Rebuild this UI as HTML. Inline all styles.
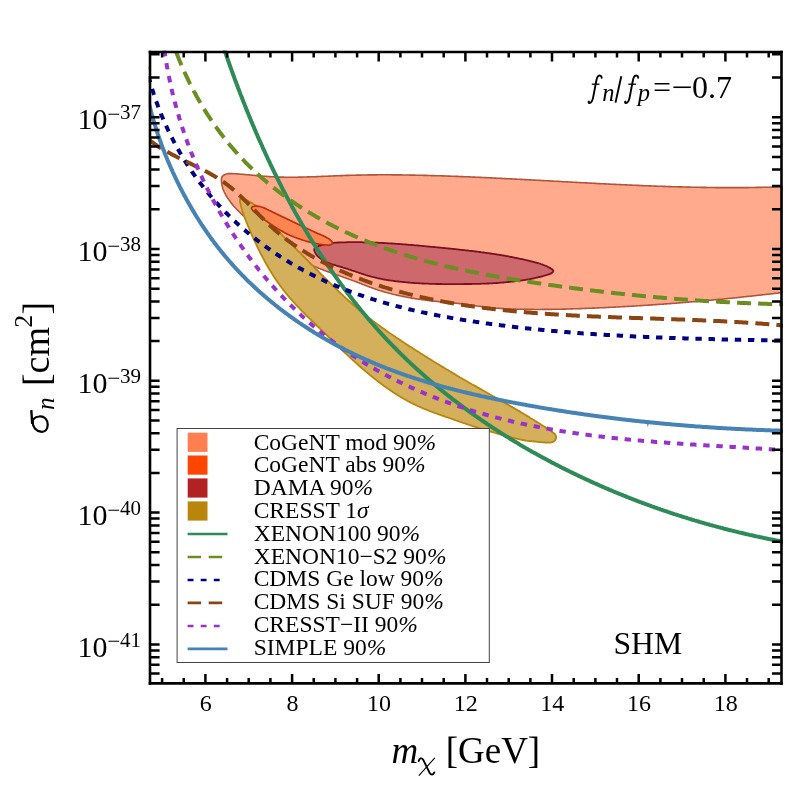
<!DOCTYPE html>
<html><head><meta charset="utf-8"><title>chart</title>
<style>
html,body{margin:0;padding:0;background:#fff;}
body{width:789px;height:789px;overflow:hidden;font-family:"Liberation Serif",serif;}
svg{display:block;will-change:transform;}
text{font-family:"Liberation Serif",serif;fill:#000;}
.it{font-style:italic;}
</style></head><body>
<svg width="789" height="789" viewBox="0 0 789 789">
<rect x="0" y="0" width="789" height="789" fill="#fff"/>
<defs><clipPath id="pc"><rect x="148.7" y="50.6" width="634.2" height="634.2"/></clipPath></defs>
<g clip-path="url(#pc)">
<path d="M784.0 186.7 L783.0 186.8 L782.0 186.8 L781.0 186.8 L780.0 186.9 L779.0 186.9 L778.0 186.9 L777.0 187.0 L776.0 187.0 L775.0 187.0 L774.0 187.0 L773.0 187.1 L772.0 187.1 L771.0 187.1 L770.0 187.2 L769.0 187.2 L768.0 187.2 L767.0 187.2 L766.0 187.3 L765.0 187.3 L764.0 187.3 L763.0 187.3 L762.0 187.3 L761.0 187.4 L760.0 187.4 L759.0 187.4 L758.0 187.4 L757.0 187.4 L756.0 187.4 L755.0 187.5 L754.0 187.5 L753.0 187.5 L751.9 187.5 L750.9 187.5 L749.9 187.5 L748.9 187.5 L747.9 187.6 L746.9 187.6 L745.9 187.6 L744.9 187.6 L743.9 187.6 L742.9 187.6 L741.9 187.6 L740.9 187.6 L739.9 187.6 L738.9 187.6 L737.9 187.6 L736.9 187.6 L735.9 187.6 L734.9 187.6 L733.9 187.6 L732.9 187.6 L731.9 187.6 L730.9 187.6 L729.9 187.6 L728.9 187.6 L727.9 187.6 L726.9 187.6 L725.9 187.6 L724.9 187.6 L723.9 187.6 L722.9 187.6 L721.9 187.6 L720.9 187.6 L719.9 187.6 L718.9 187.6 L717.9 187.6 L716.9 187.6 L715.9 187.6 L714.9 187.5 L713.9 187.5 L712.9 187.5 L711.9 187.5 L710.9 187.5 L709.9 187.5 L708.9 187.5 L707.9 187.5 L706.9 187.5 L705.9 187.4 L704.9 187.4 L703.9 187.4 L702.9 187.4 L701.9 187.4 L700.9 187.4 L699.9 187.3 L698.9 187.3 L697.9 187.3 L696.9 187.3 L695.9 187.3 L694.9 187.2 L693.9 187.2 L692.9 187.2 L691.9 187.2 L690.9 187.2 L689.9 187.1 L688.9 187.1 L687.9 187.1 L686.9 187.1 L685.9 187.0 L684.9 187.0 L683.9 187.0 L682.9 187.0 L681.9 186.9 L680.9 186.9 L679.9 186.9 L678.9 186.9 L677.9 186.8 L676.9 186.8 L675.9 186.8 L674.9 186.7 L673.9 186.7 L672.9 186.7 L671.9 186.7 L670.9 186.6 L669.9 186.6 L668.9 186.6 L667.9 186.5 L666.9 186.5 L665.9 186.5 L664.9 186.4 L663.9 186.4 L662.9 186.4 L661.9 186.3 L660.9 186.3 L659.9 186.3 L658.9 186.2 L657.9 186.2 L656.9 186.2 L655.9 186.1 L654.8 186.1 L653.8 186.0 L652.8 186.0 L651.8 186.0 L650.8 185.9 L649.8 185.9 L648.8 185.9 L647.8 185.8 L646.8 185.8 L645.8 185.7 L644.8 185.7 L643.8 185.7 L642.8 185.6 L641.8 185.6 L640.8 185.5 L639.8 185.5 L638.8 185.4 L637.8 185.4 L636.8 185.4 L635.8 185.3 L634.8 185.3 L633.8 185.2 L632.8 185.2 L631.8 185.1 L630.8 185.1 L629.8 185.1 L628.8 185.0 L627.8 185.0 L626.8 184.9 L625.8 184.9 L624.8 184.8 L623.8 184.8 L622.8 184.7 L621.8 184.7 L620.8 184.6 L619.8 184.6 L618.8 184.5 L617.8 184.5 L616.8 184.5 L615.8 184.4 L614.8 184.4 L613.8 184.3 L612.8 184.3 L611.8 184.2 L610.8 184.2 L609.8 184.1 L608.8 184.1 L607.8 184.0 L606.8 184.0 L605.8 183.9 L604.8 183.9 L603.8 183.8 L602.8 183.8 L601.8 183.7 L600.8 183.7 L599.8 183.6 L598.8 183.6 L597.8 183.5 L596.8 183.5 L595.8 183.4 L594.8 183.4 L593.8 183.3 L592.8 183.3 L591.8 183.2 L590.8 183.1 L589.8 183.1 L588.8 183.0 L587.8 183.0 L586.8 182.9 L585.8 182.9 L584.8 182.8 L583.8 182.8 L582.8 182.7 L581.8 182.7 L580.8 182.6 L579.8 182.6 L578.8 182.5 L577.8 182.5 L576.8 182.4 L575.8 182.4 L574.8 182.3 L573.8 182.2 L572.8 182.2 L571.8 182.1 L570.8 182.1 L569.8 182.0 L568.8 182.0 L567.8 181.9 L566.8 181.9 L565.8 181.8 L564.8 181.8 L563.8 181.7 L562.8 181.7 L561.8 181.6 L560.8 181.5 L559.8 181.5 L558.8 181.4 L557.8 181.4 L556.8 181.3 L555.8 181.3 L554.8 181.2 L553.8 181.2 L552.8 181.1 L551.8 181.1 L550.8 181.0 L549.8 180.9 L548.8 180.9 L547.8 180.8 L546.8 180.8 L545.8 180.7 L544.8 180.7 L543.8 180.6 L542.8 180.6 L541.8 180.5 L540.8 180.5 L539.8 180.4 L538.8 180.3 L537.8 180.3 L536.8 180.2 L535.8 180.2 L534.8 180.1 L533.8 180.1 L532.8 180.0 L531.8 180.0 L530.8 179.9 L529.8 179.9 L528.8 179.8 L527.8 179.8 L526.8 179.7 L525.8 179.6 L524.8 179.6 L523.8 179.5 L522.8 179.5 L521.8 179.4 L520.8 179.4 L519.8 179.3 L518.8 179.3 L517.8 179.2 L516.8 179.2 L515.8 179.1 L514.8 179.1 L513.8 179.0 L512.8 179.0 L511.8 178.9 L510.8 178.9 L509.8 178.8 L508.8 178.8 L507.8 178.7 L506.8 178.7 L505.8 178.6 L504.8 178.6 L503.8 178.5 L502.8 178.5 L501.8 178.4 L500.8 178.4 L499.8 178.3 L498.8 178.3 L497.8 178.2 L496.8 178.2 L495.8 178.1 L494.8 178.1 L493.8 178.0 L492.8 178.0 L491.8 177.9 L490.8 177.9 L489.8 177.8 L488.8 177.8 L487.8 177.7 L486.8 177.7 L485.8 177.6 L484.8 177.6 L483.8 177.5 L482.8 177.5 L481.8 177.5 L480.8 177.4 L479.8 177.4 L478.8 177.3 L477.8 177.3 L476.8 177.2 L475.8 177.2 L474.8 177.1 L473.8 177.1 L472.8 177.1 L471.8 177.0 L470.8 177.0 L469.8 176.9 L468.8 176.9 L467.8 176.8 L466.8 176.8 L465.8 176.8 L464.8 176.7 L463.8 176.7 L462.8 176.6 L461.8 176.6 L460.8 176.6 L459.8 176.5 L458.8 176.5 L457.8 176.4 L456.8 176.4 L455.8 176.4 L454.8 176.3 L453.8 176.3 L452.8 176.3 L451.8 176.2 L450.8 176.2 L449.8 176.1 L448.8 176.1 L447.8 176.1 L446.8 176.0 L445.8 176.0 L444.8 176.0 L443.8 175.9 L442.8 175.9 L441.8 175.9 L440.8 175.8 L439.8 175.8 L438.8 175.8 L437.8 175.7 L436.8 175.7 L435.8 175.7 L434.8 175.7 L433.8 175.6 L432.8 175.6 L431.8 175.6 L430.8 175.5 L429.8 175.5 L428.8 175.5 L427.8 175.5 L426.8 175.4 L425.8 175.4 L424.8 175.4 L423.8 175.4 L422.8 175.3 L421.8 175.3 L420.8 175.3 L419.8 175.3 L418.8 175.2 L417.8 175.2 L416.8 175.2 L415.8 175.2 L414.8 175.1 L413.8 175.1 L412.8 175.1 L411.8 175.1 L410.8 175.1 L409.8 175.1 L408.8 175.0 L407.8 175.0 L406.8 175.0 L405.8 175.0 L404.8 175.0 L403.8 175.0 L402.8 175.0 L401.8 174.9 L400.8 174.9 L399.8 174.9 L398.8 174.9 L397.8 174.9 L396.8 174.9 L395.8 174.9 L394.8 174.9 L393.8 174.9 L392.8 174.9 L391.8 174.9 L390.8 174.8 L389.8 174.8 L388.8 174.8 L387.8 174.8 L386.8 174.8 L385.8 174.8 L384.8 174.8 L383.8 174.8 L382.7 174.8 L381.7 174.8 L380.7 174.8 L379.7 174.8 L378.7 174.8 L377.7 174.8 L376.7 174.9 L375.7 174.9 L374.7 174.9 L373.7 174.9 L372.7 174.9 L371.7 174.9 L370.7 174.9 L369.7 174.9 L368.7 174.9 L367.7 174.9 L366.7 175.0 L365.7 175.0 L364.7 175.0 L363.7 175.0 L362.7 175.0 L361.7 175.0 L360.7 175.1 L359.7 175.1 L358.7 175.1 L357.7 175.1 L356.7 175.1 L355.7 175.2 L354.7 175.2 L353.7 175.2 L352.7 175.2 L351.7 175.3 L350.7 175.3 L349.7 175.3 L348.7 175.4 L347.7 175.4 L346.7 175.4 L345.7 175.4 L344.7 175.5 L343.7 175.5 L342.7 175.6 L341.7 175.6 L340.7 175.6 L339.7 175.7 L338.7 175.7 L337.7 175.7 L336.7 175.8 L335.7 175.8 L334.7 175.9 L333.7 175.9 L332.7 176.0 L331.7 176.0 L330.7 176.0 L329.7 176.1 L328.7 176.1 L327.7 176.2 L326.7 176.2 L325.7 176.3 L324.7 176.3 L323.7 176.3 L322.7 176.4 L321.7 176.4 L320.7 176.5 L319.7 176.5 L318.6 176.5 L317.6 176.6 L316.6 176.6 L315.6 176.7 L314.6 176.7 L313.6 176.7 L312.6 176.8 L311.6 176.8 L310.6 176.8 L309.6 176.9 L308.6 176.9 L307.6 176.9 L306.6 177.0 L305.6 177.0 L304.6 177.0 L303.6 177.0 L302.6 177.1 L301.6 177.1 L300.6 177.1 L299.6 177.1 L298.6 177.1 L297.6 177.2 L296.6 177.2 L295.6 177.2 L294.6 177.2 L293.6 177.2 L292.6 177.2 L291.6 177.2 L290.6 177.2 L289.6 177.2 L288.6 177.2 L287.6 177.2 L286.6 177.2 L285.6 177.2 L284.6 177.2 L283.6 177.1 L282.6 177.1 L281.6 177.1 L280.6 177.1 L279.6 177.1 L278.6 177.0 L277.6 177.0 L276.6 176.9 L275.6 176.9 L274.6 176.9 L273.6 176.8 L272.6 176.8 L271.6 176.7 L270.6 176.7 L269.6 176.6 L268.6 176.5 L267.7 176.5 L266.7 176.4 L265.7 176.3 L264.7 176.3 L263.7 176.2 L262.7 176.1 L261.7 176.0 L260.7 175.9 L259.7 175.8 L258.7 175.8 L257.7 175.7 L256.7 175.6 L255.7 175.5 L254.7 175.4 L253.7 175.3 L252.7 175.2 L251.7 175.1 L250.7 175.0 L249.7 174.9 L248.7 174.9 L247.7 174.8 L246.7 174.7 L245.7 174.6 L244.7 174.5 L243.7 174.4 L242.7 174.3 L241.7 174.2 L240.7 174.2 L239.7 174.1 L238.7 174.0 L237.7 173.9 L236.7 173.9 L235.7 173.8 L234.7 173.7 L233.6 173.7 L232.6 173.6 L231.6 173.6 L230.6 173.5 L229.6 173.6 L228.6 173.6 L227.6 173.8 L226.6 174.0 L225.6 174.3 L224.6 174.7 L223.7 175.2 L222.9 175.8 L222.2 176.4 L221.8 177.3 L221.6 178.1 L221.5 179.1 L221.4 180.1 L221.5 181.0 L221.5 182.0 L221.6 183.0 L221.8 183.9 L221.9 184.9 L222.1 185.8 L222.4 186.8 L222.6 187.7 L222.9 188.7 L223.3 189.6 L223.6 190.5 L224.0 191.5 L224.4 192.4 L224.9 193.3 L225.3 194.2 L225.8 195.1 L226.3 196.0 L226.9 196.8 L227.4 197.7 L228.0 198.6 L228.6 199.4 L229.2 200.3 L229.8 201.1 L230.4 202.0 L231.0 202.8 L231.7 203.6 L232.3 204.4 L233.0 205.2 L233.6 206.0 L234.3 206.7 L235.0 207.5 L235.7 208.2 L236.4 209.0 L237.1 209.7 L237.8 210.4 L238.5 211.1 L239.2 211.8 L239.9 212.5 L240.6 213.2 L241.3 213.9 L242.0 214.5 L242.8 215.2 L243.5 215.9 L244.2 216.5 L245.0 217.2 L245.7 217.8 L246.5 218.4 L247.2 219.1 L248.0 219.7 L248.7 220.3 L249.5 221.0 L250.2 221.6 L251.0 222.2 L251.8 222.8 L252.5 223.4 L253.3 224.1 L254.1 224.7 L254.9 225.3 L255.7 225.9 L256.4 226.5 L257.2 227.1 L258.0 227.8 L258.8 228.4 L259.6 229.0 L260.4 229.6 L261.2 230.2 L261.9 230.9 L262.7 231.5 L263.5 232.1 L264.3 232.7 L265.1 233.4 L265.9 234.0 L266.7 234.6 L267.5 235.2 L268.3 235.9 L269.1 236.5 L269.9 237.1 L270.7 237.7 L271.4 238.4 L272.2 239.0 L273.0 239.6 L273.8 240.3 L274.6 240.9 L275.4 241.5 L276.2 242.2 L276.9 242.8 L277.7 243.4 L278.5 244.1 L279.3 244.7 L280.1 245.3 L280.9 245.9 L281.7 246.6 L282.5 247.2 L283.3 247.8 L284.1 248.4 L284.9 249.0 L285.7 249.6 L286.5 250.2 L287.3 250.8 L288.1 251.4 L288.9 252.0 L289.7 252.6 L290.5 253.2 L291.3 253.7 L292.2 254.3 L293.0 254.9 L293.8 255.4 L294.6 256.0 L295.5 256.5 L296.3 257.1 L297.2 257.6 L298.0 258.1 L298.9 258.6 L299.7 259.1 L300.6 259.6 L301.4 260.1 L302.3 260.6 L303.2 261.1 L304.1 261.6 L305.0 262.0 L305.9 262.5 L306.7 262.9 L307.6 263.4 L308.5 263.8 L309.4 264.2 L310.3 264.6 L311.3 265.0 L312.2 265.5 L313.1 265.9 L314.0 266.3 L314.9 266.7 L315.8 267.0 L316.8 267.4 L317.7 267.8 L318.6 268.2 L319.6 268.6 L320.5 268.9 L321.4 269.3 L322.4 269.6 L323.3 270.0 L324.2 270.4 L325.2 270.7 L326.1 271.1 L327.1 271.4 L328.0 271.7 L328.9 272.1 L329.9 272.4 L330.8 272.8 L331.8 273.1 L332.7 273.4 L333.7 273.8 L334.6 274.1 L335.5 274.4 L336.5 274.8 L337.4 275.1 L338.4 275.4 L339.3 275.8 L340.3 276.1 L341.2 276.4 L342.2 276.7 L343.1 277.1 L344.0 277.4 L345.0 277.7 L345.9 278.1 L346.9 278.4 L347.8 278.7 L348.8 279.1 L349.7 279.4 L350.6 279.8 L351.6 280.1 L352.5 280.4 L353.5 280.8 L354.4 281.1 L355.3 281.5 L356.3 281.8 L357.2 282.2 L358.1 282.6 L359.1 282.9 L360.0 283.3 L360.9 283.6 L361.9 284.0 L362.8 284.4 L363.7 284.7 L364.6 285.1 L365.6 285.5 L366.5 285.8 L367.4 286.2 L368.4 286.6 L369.3 286.9 L370.2 287.3 L371.2 287.6 L372.1 287.9 L373.1 288.3 L374.0 288.6 L375.0 288.9 L375.9 289.3 L376.9 289.6 L377.8 289.9 L378.8 290.2 L379.7 290.5 L380.7 290.8 L381.6 291.1 L382.6 291.4 L383.5 291.6 L384.5 291.9 L385.5 292.2 L386.4 292.5 L387.4 292.7 L388.4 293.0 L389.3 293.2 L390.3 293.5 L391.3 293.7 L392.2 294.0 L393.2 294.2 L394.2 294.5 L395.2 294.7 L396.1 294.9 L397.1 295.1 L398.1 295.4 L399.1 295.6 L400.0 295.8 L401.0 296.0 L402.0 296.2 L403.0 296.4 L404.0 296.6 L405.0 296.8 L405.9 297.0 L406.9 297.2 L407.9 297.4 L408.9 297.5 L409.9 297.7 L410.9 297.9 L411.9 298.1 L412.9 298.2 L413.8 298.4 L414.8 298.6 L415.8 298.7 L416.8 298.9 L417.8 299.0 L418.8 299.2 L419.8 299.3 L420.8 299.5 L421.8 299.6 L422.8 299.7 L423.8 299.9 L424.8 300.0 L425.8 300.1 L426.8 300.3 L427.8 300.4 L428.7 300.5 L429.7 300.6 L430.7 300.8 L431.7 300.9 L432.7 301.0 L433.7 301.1 L434.7 301.2 L435.7 301.3 L436.7 301.4 L437.7 301.5 L438.7 301.6 L439.7 301.7 L440.7 301.8 L441.7 301.9 L442.7 302.0 L443.7 302.1 L444.7 302.2 L445.7 302.3 L446.7 302.4 L447.7 302.5 L448.7 302.5 L449.7 302.6 L450.7 302.7 L451.6 302.8 L452.6 302.9 L453.6 303.0 L454.6 303.1 L455.6 303.2 L456.6 303.3 L457.6 303.4 L458.6 303.5 L459.6 303.6 L460.6 303.7 L461.6 303.8 L462.6 303.9 L463.6 304.0 L464.5 304.1 L465.5 304.3 L466.5 304.4 L467.5 304.5 L468.5 304.7 L469.5 304.8 L470.5 305.0 L471.5 305.1 L472.5 305.3 L473.5 305.4 L474.5 305.6 L475.4 305.7 L476.4 305.9 L477.4 306.0 L478.4 306.2 L479.4 306.3 L480.4 306.4 L481.4 306.6 L482.4 306.7 L483.4 306.8 L484.4 307.0 L485.4 307.1 L486.4 307.2 L487.4 307.3 L488.4 307.4 L489.4 307.5 L490.4 307.6 L491.4 307.7 L492.4 307.8 L493.4 307.9 L494.4 308.0 L495.4 308.1 L496.4 308.2 L497.4 308.2 L498.4 308.3 L499.4 308.4 L500.4 308.4 L501.4 308.5 L502.4 308.6 L503.4 308.6 L504.4 308.7 L505.4 308.7 L506.4 308.8 L507.4 308.8 L508.4 308.9 L509.4 308.9 L510.4 308.9 L511.4 309.0 L512.4 309.0 L513.4 309.1 L514.4 309.1 L515.4 309.1 L516.4 309.2 L517.4 309.2 L518.4 309.2 L519.4 309.2 L520.4 309.3 L521.4 309.3 L522.4 309.3 L523.4 309.3 L524.4 309.3 L525.4 309.4 L526.4 309.4 L527.4 309.4 L528.4 309.4 L529.4 309.4 L530.4 309.4 L531.4 309.4 L532.4 309.4 L533.4 309.4 L534.4 309.5 L535.4 309.5 L536.4 309.5 L537.4 309.5 L538.4 309.5 L539.4 309.5 L540.4 309.5 L541.4 309.5 L542.4 309.4 L543.4 309.4 L544.4 309.4 L545.4 309.4 L546.4 309.4 L547.4 309.4 L548.4 309.4 L549.4 309.4 L550.4 309.4 L551.4 309.4 L552.4 309.3 L553.4 309.3 L554.4 309.3 L555.4 309.3 L556.4 309.3 L557.4 309.3 L558.4 309.2 L559.4 309.2 L560.4 309.2 L561.4 309.2 L562.4 309.1 L563.4 309.1 L564.4 309.1 L565.4 309.1 L566.4 309.0 L567.4 309.0 L568.4 309.0 L569.4 309.0 L570.4 308.9 L571.4 308.9 L572.4 308.9 L573.4 308.8 L574.4 308.8 L575.4 308.8 L576.4 308.7 L577.4 308.7 L578.4 308.7 L579.4 308.6 L580.4 308.6 L581.4 308.6 L582.4 308.5 L583.4 308.5 L584.4 308.5 L585.4 308.4 L586.4 308.4 L587.4 308.3 L588.4 308.3 L589.4 308.3 L590.4 308.2 L591.4 308.2 L592.4 308.1 L593.4 308.1 L594.4 308.1 L595.4 308.0 L596.4 308.0 L597.4 307.9 L598.4 307.9 L599.4 307.8 L600.4 307.8 L601.4 307.8 L602.4 307.7 L603.4 307.7 L604.4 307.6 L605.4 307.6 L606.4 307.5 L607.4 307.5 L608.4 307.4 L609.4 307.4 L610.4 307.3 L611.4 307.3 L612.4 307.2 L613.4 307.2 L614.4 307.1 L615.4 307.1 L616.4 307.0 L617.4 307.0 L618.4 306.9 L619.4 306.9 L620.4 306.8 L621.4 306.8 L622.4 306.7 L623.4 306.6 L624.4 306.6 L625.4 306.5 L626.4 306.5 L627.4 306.4 L628.4 306.4 L629.4 306.3 L630.4 306.2 L631.4 306.2 L632.4 306.1 L633.4 306.1 L634.4 306.0 L635.4 306.0 L636.4 305.9 L637.4 305.8 L638.4 305.8 L639.4 305.7 L640.4 305.6 L641.4 305.6 L642.4 305.5 L643.4 305.5 L644.4 305.4 L645.4 305.3 L646.4 305.3 L647.4 305.2 L648.4 305.1 L649.4 305.1 L650.4 305.0 L651.4 304.9 L652.4 304.9 L653.4 304.8 L654.4 304.7 L655.4 304.6 L656.4 304.6 L657.4 304.5 L658.4 304.4 L659.4 304.4 L660.4 304.3 L661.4 304.2 L662.4 304.2 L663.4 304.1 L664.4 304.0 L665.4 303.9 L666.4 303.9 L667.4 303.8 L668.4 303.7 L669.4 303.6 L670.4 303.6 L671.4 303.5 L672.4 303.4 L673.4 303.3 L674.4 303.3 L675.4 303.2 L676.4 303.1 L677.4 303.0 L678.4 302.9 L679.4 302.9 L680.4 302.8 L681.4 302.7 L682.4 302.6 L683.4 302.5 L684.4 302.5 L685.4 302.4 L686.4 302.3 L687.4 302.2 L688.4 302.1 L689.4 302.0 L690.4 302.0 L691.4 301.9 L692.4 301.8 L693.4 301.7 L694.3 301.6 L695.3 301.5 L696.3 301.4 L697.3 301.4 L698.3 301.3 L699.3 301.2 L700.3 301.1 L701.3 301.0 L702.3 300.9 L703.3 300.8 L704.3 300.7 L705.3 300.6 L706.3 300.6 L707.3 300.5 L708.3 300.4 L709.3 300.3 L710.3 300.2 L711.3 300.1 L712.3 300.0 L713.3 299.9 L714.3 299.8 L715.3 299.7 L716.3 299.6 L717.3 299.5 L718.3 299.4 L719.3 299.3 L720.3 299.2 L721.3 299.2 L722.3 299.1 L723.3 299.0 L724.3 298.9 L725.3 298.8 L726.3 298.7 L727.3 298.6 L728.2 298.5 L729.2 298.4 L730.2 298.3 L731.2 298.2 L732.2 298.1 L733.2 298.0 L734.2 297.9 L735.2 297.8 L736.2 297.7 L737.2 297.6 L738.2 297.5 L739.2 297.4 L740.2 297.3 L741.2 297.1 L742.2 297.0 L743.2 296.9 L744.2 296.8 L745.2 296.7 L746.2 296.6 L747.2 296.5 L748.2 296.4 L749.2 296.3 L750.2 296.2 L751.2 296.1 L752.2 296.0 L753.1 295.9 L754.1 295.8 L755.1 295.7 L756.1 295.5 L757.1 295.4 L758.1 295.3 L759.1 295.2 L760.1 295.1 L761.1 295.0 L762.1 294.9 L763.1 294.8 L764.1 294.7 L765.1 294.5 L766.1 294.4 L767.1 294.3 L768.1 294.2 L769.1 294.1 L770.1 294.0 L771.1 293.9 L772.1 293.8 L773.1 293.6 L774.0 293.5 L775.0 293.4 L776.0 293.3 L777.0 293.2 L778.0 293.1 L779.0 292.9 L780.0 292.8 L781.0 292.7 L782.0 292.6 L783.0 292.5 L784.0 292.3 Z" fill="#FFAA8C" stroke="#B0553A" stroke-width="1.6" stroke-linejoin="round"/>
<path d="M240.8 198.4 L241.4 198.3 L242.1 198.3 L242.9 198.5 L243.9 198.9 L244.8 199.3 L245.8 199.7 L246.8 200.2 L247.8 200.7 L248.8 201.2 L249.7 201.8 L250.7 202.3 L251.6 202.9 L252.5 203.4 L253.3 204.0 L254.2 204.6 L255.0 205.1 L255.7 205.7 L256.5 206.3 L257.3 206.9 L258.0 207.6 L258.7 208.2 L259.4 208.8 L260.1 209.5 L260.8 210.2 L261.5 210.9 L262.2 211.6 L262.8 212.3 L263.5 213.1 L264.1 213.8 L264.8 214.6 L265.4 215.4 L266.1 216.1 L266.7 216.9 L267.3 217.7 L267.9 218.5 L268.6 219.3 L269.2 220.1 L269.8 220.9 L270.4 221.7 L271.1 222.5 L271.7 223.3 L272.3 224.1 L272.9 224.9 L273.6 225.7 L274.2 226.5 L274.9 227.3 L275.5 228.0 L276.2 228.8 L276.8 229.5 L277.5 230.3 L278.2 231.0 L278.9 231.8 L279.5 232.5 L280.2 233.2 L280.9 234.0 L281.6 234.7 L282.3 235.4 L283.0 236.1 L283.7 236.8 L284.4 237.5 L285.1 238.2 L285.8 238.9 L286.6 239.6 L287.3 240.3 L288.0 241.0 L288.7 241.7 L289.4 242.4 L290.1 243.1 L290.8 243.8 L291.6 244.5 L292.3 245.2 L293.0 245.9 L293.7 246.6 L294.4 247.3 L295.1 248.0 L295.8 248.7 L296.5 249.4 L297.2 250.1 L297.9 250.8 L298.6 251.5 L299.4 252.2 L300.1 252.9 L300.8 253.6 L301.5 254.3 L302.2 255.1 L302.9 255.8 L303.6 256.5 L304.3 257.2 L305.0 257.9 L305.7 258.6 L306.4 259.3 L307.1 260.0 L307.8 260.7 L308.5 261.5 L309.2 262.2 L309.9 262.9 L310.6 263.6 L311.3 264.3 L312.1 265.0 L312.8 265.7 L313.5 266.4 L314.2 267.2 L314.9 267.9 L315.6 268.6 L316.3 269.3 L317.0 270.0 L317.7 270.7 L318.4 271.4 L319.1 272.1 L319.8 272.8 L320.5 273.6 L321.2 274.3 L321.9 275.0 L322.7 275.7 L323.4 276.4 L324.1 277.1 L324.8 277.8 L325.5 278.5 L326.2 279.2 L326.9 279.9 L327.6 280.6 L328.3 281.3 L329.1 282.0 L329.8 282.7 L330.5 283.4 L331.2 284.1 L331.9 284.8 L332.6 285.5 L333.4 286.2 L334.1 286.9 L334.8 287.6 L335.5 288.3 L336.2 289.0 L337.0 289.7 L337.7 290.4 L338.4 291.1 L339.1 291.8 L339.9 292.5 L340.6 293.2 L341.3 293.9 L342.1 294.5 L342.8 295.2 L343.5 295.9 L344.3 296.6 L345.0 297.3 L345.7 298.0 L346.5 298.6 L347.2 299.3 L347.9 300.0 L348.7 300.7 L349.4 301.3 L350.2 302.0 L350.9 302.7 L351.7 303.3 L352.4 304.0 L353.2 304.7 L353.9 305.3 L354.7 306.0 L355.4 306.6 L356.2 307.3 L356.9 307.9 L357.7 308.6 L358.5 309.2 L359.2 309.9 L360.0 310.5 L360.8 311.2 L361.5 311.8 L362.3 312.5 L363.1 313.1 L363.8 313.7 L364.6 314.4 L365.4 315.0 L366.2 315.6 L366.9 316.2 L367.7 316.9 L368.5 317.5 L369.3 318.1 L370.1 318.7 L370.9 319.3 L371.7 319.9 L372.5 320.6 L373.3 321.2 L374.1 321.8 L374.9 322.4 L375.7 323.0 L376.5 323.6 L377.3 324.2 L378.1 324.7 L378.9 325.3 L379.7 325.9 L380.5 326.5 L381.3 327.1 L382.1 327.7 L382.9 328.3 L383.8 328.8 L384.6 329.4 L385.4 330.0 L386.2 330.6 L387.0 331.1 L387.8 331.7 L388.7 332.3 L389.5 332.9 L390.3 333.4 L391.1 334.0 L392.0 334.6 L392.8 335.1 L393.6 335.7 L394.4 336.2 L395.3 336.8 L396.1 337.4 L396.9 337.9 L397.7 338.5 L398.6 339.0 L399.4 339.6 L400.2 340.1 L401.1 340.7 L401.9 341.2 L402.7 341.8 L403.6 342.3 L404.4 342.9 L405.2 343.4 L406.1 344.0 L406.9 344.5 L407.7 345.1 L408.6 345.6 L409.4 346.2 L410.3 346.7 L411.1 347.2 L411.9 347.8 L412.8 348.3 L413.6 348.9 L414.5 349.4 L415.3 349.9 L416.2 350.5 L417.0 351.0 L417.9 351.6 L418.7 352.1 L419.5 352.6 L420.4 353.2 L421.2 353.7 L422.1 354.2 L422.9 354.8 L423.8 355.3 L424.6 355.8 L425.5 356.4 L426.3 356.9 L427.2 357.4 L428.0 358.0 L428.9 358.5 L429.7 359.0 L430.6 359.6 L431.5 360.1 L432.3 360.6 L433.2 361.2 L434.0 361.7 L434.9 362.2 L435.7 362.7 L436.6 363.3 L437.4 363.8 L438.3 364.3 L439.2 364.8 L440.0 365.4 L440.9 365.9 L441.7 366.4 L442.6 366.9 L443.5 367.4 L444.3 368.0 L445.2 368.5 L446.0 369.0 L446.9 369.5 L447.8 370.0 L448.6 370.5 L449.5 371.1 L450.3 371.6 L451.2 372.1 L452.1 372.6 L452.9 373.1 L453.8 373.6 L454.7 374.1 L455.5 374.6 L456.4 375.1 L457.2 375.7 L458.1 376.2 L459.0 376.7 L459.8 377.2 L460.7 377.7 L461.6 378.2 L462.4 378.7 L463.3 379.2 L464.2 379.7 L465.0 380.2 L465.9 380.7 L466.8 381.2 L467.6 381.7 L468.5 382.2 L469.3 382.7 L470.2 383.2 L471.1 383.7 L471.9 384.2 L472.8 384.7 L473.7 385.1 L474.5 385.6 L475.4 386.1 L476.3 386.6 L477.1 387.1 L478.0 387.6 L478.9 388.1 L479.7 388.6 L480.6 389.1 L481.5 389.6 L482.3 390.1 L483.2 390.6 L484.1 391.0 L484.9 391.5 L485.8 392.0 L486.7 392.5 L487.5 393.0 L488.4 393.5 L489.3 394.0 L490.1 394.5 L491.0 395.0 L491.9 395.5 L492.7 396.0 L493.6 396.4 L494.5 396.9 L495.3 397.4 L496.2 397.9 L497.1 398.4 L497.9 398.9 L498.8 399.4 L499.7 399.9 L500.5 400.4 L501.4 400.9 L502.3 401.4 L503.1 401.9 L504.0 402.4 L504.9 402.9 L505.7 403.4 L506.6 403.9 L507.5 404.4 L508.3 404.9 L509.2 405.4 L510.1 405.9 L510.9 406.4 L511.8 406.9 L512.7 407.4 L513.5 407.9 L514.4 408.4 L515.3 408.9 L516.1 409.4 L517.0 409.9 L517.9 410.4 L518.7 410.9 L519.6 411.4 L520.5 411.9 L521.3 412.5 L522.2 413.0 L523.1 413.5 L523.9 414.0 L524.8 414.5 L525.7 415.0 L526.5 415.6 L527.4 416.1 L528.3 416.6 L529.1 417.1 L530.0 417.7 L530.8 418.2 L531.7 418.7 L532.6 419.3 L533.4 419.8 L534.3 420.3 L535.2 420.9 L536.0 421.4 L536.9 421.9 L537.7 422.5 L538.6 423.0 L539.5 423.6 L540.3 424.1 L541.2 424.7 L542.1 425.2 L542.9 425.8 L543.8 426.3 L544.6 426.9 L545.5 427.4 L546.4 428.0 L547.2 428.5 L548.1 429.1 L548.9 429.7 L549.8 430.2 L550.7 430.8 L551.5 431.4 L552.4 432.0 L553.2 432.6 L553.9 433.2 L554.6 433.8 L555.1 434.5 L555.6 435.3 L555.9 436.1 L556.1 436.9 L556.1 437.7 L556.0 438.5 L555.7 439.3 L555.2 440.1 L554.6 440.7 L553.9 441.3 L553.2 441.8 L552.3 442.1 L551.4 442.4 L550.4 442.6 L549.3 442.7 L548.3 442.7 L547.1 442.7 L546.0 442.6 L544.9 442.5 L543.7 442.4 L542.6 442.3 L541.4 442.2 L540.3 442.1 L539.2 442.0 L538.2 441.9 L537.1 441.8 L536.1 441.7 L535.1 441.6 L534.1 441.5 L533.1 441.4 L532.2 441.3 L531.2 441.2 L530.3 441.1 L529.3 441.0 L528.4 440.9 L527.4 440.8 L526.5 440.7 L525.5 440.5 L524.6 440.4 L523.6 440.2 L522.6 440.0 L521.7 439.8 L520.7 439.6 L519.7 439.4 L518.7 439.2 L517.8 439.0 L516.8 438.7 L515.8 438.5 L514.8 438.3 L513.8 438.0 L512.9 437.8 L511.9 437.5 L510.9 437.2 L509.9 437.0 L508.9 436.7 L508.0 436.5 L507.0 436.2 L506.0 435.9 L505.1 435.7 L504.1 435.4 L503.1 435.2 L502.1 434.9 L501.2 434.6 L500.2 434.4 L499.2 434.1 L498.3 433.8 L497.3 433.5 L496.3 433.3 L495.4 433.0 L494.4 432.7 L493.5 432.4 L492.5 432.2 L491.5 431.9 L490.6 431.6 L489.6 431.3 L488.7 431.0 L487.7 430.8 L486.7 430.5 L485.8 430.2 L484.8 429.9 L483.9 429.6 L482.9 429.3 L482.0 429.0 L481.0 428.7 L480.1 428.4 L479.1 428.1 L478.2 427.8 L477.2 427.5 L476.3 427.2 L475.3 426.9 L474.4 426.6 L473.4 426.3 L472.5 426.0 L471.5 425.6 L470.6 425.3 L469.6 425.0 L468.7 424.7 L467.7 424.4 L466.8 424.1 L465.8 423.7 L464.9 423.4 L463.9 423.1 L463.0 422.8 L462.0 422.4 L461.1 422.1 L460.1 421.8 L459.2 421.5 L458.2 421.1 L457.3 420.8 L456.3 420.5 L455.4 420.2 L454.4 419.8 L453.5 419.5 L452.6 419.2 L451.6 418.9 L450.7 418.5 L449.7 418.2 L448.8 417.9 L447.8 417.5 L446.9 417.2 L445.9 416.9 L445.0 416.6 L444.0 416.2 L443.1 415.9 L442.1 415.6 L441.2 415.2 L440.3 414.9 L439.3 414.6 L438.4 414.2 L437.4 413.9 L436.5 413.5 L435.5 413.2 L434.6 412.9 L433.7 412.5 L432.7 412.2 L431.8 411.8 L430.9 411.5 L429.9 411.1 L429.0 410.7 L428.1 410.4 L427.1 410.0 L426.2 409.6 L425.3 409.2 L424.4 408.9 L423.4 408.5 L422.5 408.1 L421.6 407.7 L420.7 407.3 L419.8 406.9 L418.9 406.5 L417.9 406.1 L417.0 405.7 L416.1 405.2 L415.2 404.8 L414.3 404.4 L413.4 403.9 L412.5 403.5 L411.7 403.0 L410.8 402.6 L409.9 402.1 L409.0 401.6 L408.1 401.2 L407.2 400.7 L406.4 400.2 L405.5 399.7 L404.6 399.2 L403.7 398.7 L402.9 398.2 L402.0 397.7 L401.1 397.2 L400.3 396.7 L399.4 396.2 L398.6 395.7 L397.7 395.1 L396.9 394.6 L396.0 394.1 L395.2 393.5 L394.3 393.0 L393.5 392.4 L392.7 391.9 L391.8 391.3 L391.0 390.8 L390.2 390.2 L389.3 389.6 L388.5 389.1 L387.7 388.5 L386.9 387.9 L386.0 387.3 L385.2 386.8 L384.4 386.2 L383.6 385.6 L382.8 385.0 L382.0 384.4 L381.2 383.8 L380.4 383.2 L379.6 382.6 L378.8 382.0 L378.0 381.4 L377.2 380.7 L376.4 380.1 L375.6 379.5 L374.8 378.9 L374.0 378.3 L373.2 377.6 L372.4 377.0 L371.7 376.4 L370.9 375.7 L370.1 375.1 L369.3 374.5 L368.6 373.8 L367.8 373.2 L367.0 372.5 L366.3 371.9 L365.5 371.3 L364.7 370.6 L364.0 370.0 L363.2 369.3 L362.4 368.7 L361.7 368.0 L360.9 367.3 L360.2 366.7 L359.4 366.0 L358.7 365.4 L357.9 364.7 L357.2 364.0 L356.4 363.4 L355.7 362.7 L355.0 362.0 L354.2 361.4 L353.5 360.7 L352.7 360.0 L352.0 359.3 L351.3 358.7 L350.5 358.0 L349.8 357.3 L349.1 356.6 L348.3 355.9 L347.6 355.3 L346.9 354.6 L346.2 353.9 L345.4 353.2 L344.7 352.5 L344.0 351.8 L343.3 351.2 L342.5 350.5 L341.8 349.8 L341.1 349.1 L340.4 348.4 L339.6 347.7 L338.9 347.0 L338.2 346.3 L337.5 345.6 L336.8 344.9 L336.0 344.2 L335.3 343.5 L334.6 342.8 L333.9 342.2 L333.2 341.5 L332.4 340.8 L331.7 340.1 L331.0 339.4 L330.3 338.7 L329.6 338.0 L328.9 337.3 L328.1 336.6 L327.4 335.9 L326.7 335.2 L326.0 334.5 L325.3 333.8 L324.5 333.1 L323.8 332.4 L323.1 331.7 L322.4 331.0 L321.7 330.3 L321.0 329.6 L320.2 328.9 L319.5 328.2 L318.8 327.5 L318.1 326.8 L317.3 326.1 L316.6 325.4 L315.9 324.7 L315.2 324.0 L314.5 323.3 L313.7 322.6 L313.0 321.9 L312.3 321.2 L311.6 320.5 L310.9 319.8 L310.2 319.1 L309.4 318.4 L308.7 317.7 L308.0 317.0 L307.3 316.3 L306.6 315.6 L305.9 314.9 L305.2 314.2 L304.5 313.5 L303.7 312.7 L303.0 312.0 L302.3 311.3 L301.6 310.6 L300.9 309.9 L300.2 309.2 L299.6 308.4 L298.9 307.7 L298.2 307.0 L297.5 306.3 L296.8 305.5 L296.1 304.8 L295.4 304.1 L294.8 303.3 L294.1 302.6 L293.4 301.9 L292.7 301.1 L292.1 300.4 L291.4 299.6 L290.7 298.9 L290.1 298.1 L289.4 297.4 L288.8 296.6 L288.1 295.8 L287.5 295.1 L286.9 294.3 L286.2 293.5 L285.6 292.8 L285.0 292.0 L284.4 291.2 L283.7 290.4 L283.1 289.6 L282.5 288.8 L281.9 288.0 L281.3 287.2 L280.7 286.4 L280.1 285.6 L279.5 284.8 L278.9 284.0 L278.4 283.2 L277.8 282.4 L277.2 281.6 L276.7 280.7 L276.1 279.9 L275.5 279.1 L275.0 278.3 L274.4 277.4 L273.9 276.6 L273.3 275.7 L272.8 274.9 L272.3 274.0 L271.7 273.2 L271.2 272.3 L270.7 271.5 L270.1 270.6 L269.6 269.8 L269.1 268.9 L268.6 268.1 L268.1 267.2 L267.6 266.3 L267.1 265.4 L266.6 264.6 L266.1 263.7 L265.6 262.8 L265.1 261.9 L264.6 261.1 L264.2 260.2 L263.7 259.3 L263.2 258.4 L262.7 257.5 L262.3 256.6 L261.8 255.7 L261.3 254.8 L260.9 254.0 L260.4 253.1 L260.0 252.2 L259.5 251.3 L259.1 250.4 L258.6 249.5 L258.2 248.6 L257.7 247.7 L257.3 246.8 L256.9 245.8 L256.4 244.9 L256.0 244.0 L255.6 243.1 L255.1 242.2 L254.7 241.3 L254.3 240.4 L253.9 239.5 L253.5 238.6 L253.1 237.6 L252.6 236.7 L252.2 235.8 L251.8 234.9 L251.4 234.0 L251.0 233.1 L250.6 232.1 L250.2 231.2 L249.8 230.3 L249.4 229.4 L249.1 228.5 L248.7 227.6 L248.3 226.6 L247.9 225.7 L247.5 224.8 L247.2 223.9 L246.8 223.0 L246.4 222.1 L246.1 221.2 L245.7 220.3 L245.4 219.4 L245.0 218.4 L244.7 217.5 L244.3 216.6 L244.0 215.7 L243.7 214.8 L243.4 213.9 L243.0 212.9 L242.7 211.9 L242.4 210.9 L242.1 209.9 L241.8 208.9 L241.5 207.8 L241.1 206.6 L240.8 205.5 L240.6 204.3 L240.3 203.1 L240.1 202.0 L240.0 201.0 L240.0 200.1 L240.1 199.4 L240.4 198.8 L240.8 198.4 Z" fill="#D4AF5C" stroke="#B8860B" stroke-width="1.8" stroke-linejoin="round"/>
<path d="M314.2 249.8 L314.3 248.9 L314.7 248.2 L315.3 247.6 L316.1 247.1 L316.9 246.7 L317.9 246.3 L318.9 245.9 L319.9 245.6 L320.9 245.3 L321.9 245.0 L322.9 244.7 L323.9 244.5 L324.9 244.2 L326.0 244.0 L327.0 243.8 L328.0 243.6 L329.0 243.5 L330.0 243.3 L331.0 243.2 L332.0 243.0 L333.0 242.9 L334.0 242.8 L334.9 242.7 L335.9 242.7 L336.9 242.6 L337.9 242.5 L338.9 242.5 L339.9 242.4 L340.9 242.4 L341.9 242.4 L342.9 242.3 L343.9 242.3 L344.9 242.3 L345.9 242.3 L346.9 242.2 L347.9 242.2 L348.9 242.2 L349.9 242.2 L350.9 242.2 L351.9 242.2 L352.9 242.2 L353.9 242.2 L354.9 242.2 L355.9 242.2 L356.9 242.2 L357.9 242.2 L358.9 242.2 L359.9 242.2 L360.9 242.2 L361.9 242.2 L362.9 242.3 L363.9 242.3 L364.9 242.3 L365.9 242.3 L366.9 242.3 L367.9 242.4 L368.9 242.4 L369.9 242.4 L370.9 242.5 L371.9 242.5 L372.9 242.5 L373.9 242.6 L374.9 242.6 L375.9 242.6 L376.9 242.7 L377.9 242.7 L378.9 242.8 L379.9 242.8 L380.9 242.9 L381.9 242.9 L382.9 243.0 L383.9 243.0 L384.9 243.1 L385.9 243.1 L386.9 243.2 L387.9 243.3 L388.9 243.3 L389.9 243.4 L390.9 243.4 L391.9 243.5 L392.9 243.6 L393.9 243.6 L394.9 243.7 L395.9 243.8 L396.9 243.8 L397.9 243.9 L398.9 244.0 L399.9 244.1 L400.9 244.1 L401.9 244.2 L402.9 244.3 L403.9 244.4 L404.9 244.4 L405.9 244.5 L406.9 244.6 L407.9 244.7 L408.9 244.8 L409.9 244.8 L410.9 244.9 L411.9 245.0 L412.9 245.1 L413.9 245.2 L414.9 245.3 L415.9 245.4 L416.9 245.4 L417.9 245.5 L418.9 245.6 L419.9 245.7 L420.9 245.8 L421.9 245.9 L422.9 246.0 L423.9 246.1 L424.9 246.2 L425.9 246.3 L426.9 246.4 L427.9 246.5 L428.9 246.6 L429.9 246.7 L430.9 246.8 L431.9 246.8 L432.9 246.9 L433.9 247.0 L434.9 247.1 L435.9 247.2 L436.9 247.3 L437.9 247.4 L438.9 247.5 L439.9 247.6 L440.9 247.7 L441.9 247.8 L442.9 247.9 L443.9 248.0 L444.9 248.1 L445.9 248.2 L446.9 248.3 L447.9 248.4 L448.9 248.5 L449.9 248.6 L450.9 248.7 L451.9 248.8 L452.9 248.9 L453.9 249.0 L454.9 249.1 L455.9 249.2 L456.9 249.3 L457.8 249.4 L458.8 249.6 L459.8 249.7 L460.8 249.8 L461.8 249.9 L462.8 250.0 L463.8 250.1 L464.8 250.2 L465.8 250.3 L466.8 250.4 L467.8 250.5 L468.8 250.7 L469.8 250.8 L470.8 250.9 L471.8 251.0 L472.8 251.1 L473.7 251.2 L474.7 251.4 L475.7 251.5 L476.7 251.6 L477.7 251.7 L478.7 251.9 L479.7 252.0 L480.7 252.1 L481.7 252.3 L482.7 252.4 L483.7 252.5 L484.7 252.7 L485.6 252.8 L486.6 252.9 L487.6 253.1 L488.6 253.2 L489.6 253.4 L490.6 253.5 L491.6 253.6 L492.6 253.8 L493.6 253.9 L494.6 254.1 L495.5 254.2 L496.5 254.4 L497.5 254.6 L498.5 254.7 L499.5 254.9 L500.5 255.0 L501.5 255.2 L502.5 255.4 L503.5 255.5 L504.5 255.7 L505.4 255.9 L506.4 256.1 L507.4 256.2 L508.4 256.4 L509.4 256.6 L510.4 256.8 L511.4 257.0 L512.4 257.2 L513.3 257.4 L514.3 257.6 L515.3 257.8 L516.3 258.0 L517.3 258.2 L518.3 258.4 L519.3 258.6 L520.2 258.8 L521.2 259.0 L522.2 259.2 L523.2 259.4 L524.2 259.6 L525.2 259.9 L526.2 260.1 L527.2 260.3 L528.1 260.5 L529.1 260.8 L530.1 261.0 L531.1 261.3 L532.1 261.5 L533.1 261.8 L534.0 262.0 L535.0 262.3 L536.0 262.5 L537.0 262.8 L538.0 263.1 L538.9 263.4 L539.9 263.7 L540.8 264.0 L541.8 264.3 L542.7 264.6 L543.7 265.0 L544.6 265.3 L545.5 265.7 L546.4 266.1 L547.3 266.5 L548.2 267.0 L549.1 267.4 L549.9 267.9 L550.8 268.4 L551.6 268.9 L552.4 269.5 L553.0 270.1 L553.3 270.8 L553.2 271.5 L552.7 272.3 L552.0 272.9 L551.1 273.4 L550.1 273.9 L548.9 274.3 L547.8 274.7 L546.6 275.0 L545.5 275.4 L544.4 275.7 L543.3 276.0 L542.3 276.3 L541.3 276.5 L540.3 276.8 L539.3 277.0 L538.4 277.2 L537.5 277.5 L536.5 277.7 L535.6 277.9 L534.7 278.1 L533.8 278.3 L532.9 278.5 L532.0 278.6 L531.1 278.8 L530.2 279.0 L529.3 279.2 L528.3 279.3 L527.4 279.5 L526.4 279.6 L525.5 279.8 L524.5 280.0 L523.5 280.1 L522.5 280.3 L521.5 280.4 L520.5 280.6 L519.5 280.7 L518.5 280.8 L517.5 281.0 L516.5 281.1 L515.5 281.2 L514.5 281.4 L513.5 281.5 L512.5 281.6 L511.4 281.7 L510.4 281.8 L509.4 281.9 L508.4 282.0 L507.4 282.1 L506.4 282.2 L505.3 282.3 L504.3 282.4 L503.3 282.5 L502.3 282.6 L501.3 282.7 L500.3 282.7 L499.3 282.8 L498.3 282.9 L497.3 283.0 L496.3 283.0 L495.3 283.1 L494.3 283.2 L493.2 283.2 L492.2 283.3 L491.2 283.3 L490.2 283.4 L489.2 283.4 L488.2 283.5 L487.2 283.5 L486.2 283.6 L485.2 283.6 L484.2 283.6 L483.2 283.7 L482.2 283.7 L481.2 283.7 L480.2 283.8 L479.2 283.8 L478.2 283.8 L477.2 283.8 L476.2 283.9 L475.2 283.9 L474.2 283.9 L473.2 283.9 L472.2 283.9 L471.3 284.0 L470.3 284.0 L469.3 284.0 L468.3 284.0 L467.3 284.0 L466.3 284.0 L465.3 284.0 L464.3 284.0 L463.3 284.1 L462.3 284.1 L461.3 284.1 L460.3 284.1 L459.3 284.1 L458.3 284.1 L457.3 284.1 L456.3 284.1 L455.3 284.1 L454.3 284.1 L453.3 284.1 L452.3 284.1 L451.3 284.1 L450.3 284.1 L449.3 284.1 L448.3 284.1 L447.3 284.1 L446.3 284.1 L445.3 284.1 L444.3 284.1 L443.2 284.1 L442.2 284.1 L441.2 284.0 L440.2 284.0 L439.2 284.0 L438.2 284.0 L437.2 284.0 L436.2 284.0 L435.2 283.9 L434.2 283.9 L433.2 283.9 L432.2 283.9 L431.2 283.8 L430.2 283.8 L429.2 283.8 L428.2 283.7 L427.2 283.7 L426.2 283.6 L425.2 283.6 L424.2 283.6 L423.2 283.5 L422.2 283.5 L421.2 283.4 L420.2 283.4 L419.2 283.3 L418.2 283.2 L417.2 283.2 L416.2 283.1 L415.2 283.1 L414.2 283.0 L413.2 282.9 L412.2 282.8 L411.2 282.8 L410.2 282.7 L409.2 282.6 L408.2 282.5 L407.2 282.4 L406.2 282.3 L405.2 282.2 L404.2 282.1 L403.2 282.0 L402.2 281.9 L401.2 281.8 L400.2 281.7 L399.2 281.6 L398.2 281.5 L397.2 281.4 L396.2 281.3 L395.2 281.1 L394.2 281.0 L393.2 280.9 L392.2 280.7 L391.2 280.6 L390.2 280.4 L389.2 280.3 L388.2 280.1 L387.3 280.0 L386.3 279.8 L385.3 279.6 L384.3 279.5 L383.3 279.3 L382.3 279.1 L381.3 278.9 L380.3 278.7 L379.4 278.5 L378.4 278.3 L377.4 278.1 L376.4 277.9 L375.5 277.6 L374.5 277.4 L373.5 277.2 L372.5 276.9 L371.6 276.7 L370.6 276.4 L369.7 276.1 L368.7 275.9 L367.7 275.6 L366.8 275.3 L365.8 275.0 L364.9 274.7 L363.9 274.4 L363.0 274.1 L362.0 273.8 L361.1 273.5 L360.1 273.2 L359.2 272.8 L358.2 272.5 L357.3 272.2 L356.3 271.9 L355.4 271.5 L354.4 271.2 L353.5 270.9 L352.5 270.6 L351.6 270.3 L350.6 269.9 L349.7 269.6 L348.7 269.3 L347.8 269.0 L346.8 268.7 L345.8 268.4 L344.9 268.1 L343.9 267.8 L342.9 267.5 L342.0 267.2 L341.0 267.0 L340.0 266.7 L339.1 266.4 L338.1 266.1 L337.1 265.8 L336.2 265.5 L335.2 265.2 L334.2 264.9 L333.3 264.6 L332.3 264.3 L331.4 264.0 L330.5 263.6 L329.5 263.3 L328.6 262.9 L327.7 262.5 L326.8 262.1 L325.9 261.7 L325.0 261.2 L324.1 260.8 L323.3 260.3 L322.4 259.8 L321.6 259.2 L320.8 258.7 L319.9 258.1 L319.2 257.5 L318.4 256.8 L317.7 256.1 L317.0 255.3 L316.3 254.5 L315.7 253.6 L315.2 252.7 L314.7 251.7 L314.3 250.7 L314.2 249.8 Z" fill="#CD686C" stroke="#7A1020" stroke-width="1.8" stroke-linejoin="round"/>
<path d="M251.4 208.2 L251.7 207.5 L252.3 206.9 L253.2 206.5 L254.3 206.2 L255.3 206.2 L256.4 206.2 L257.4 206.2 L258.5 206.3 L259.5 206.5 L260.5 206.7 L261.4 207.0 L262.4 207.3 L263.3 207.6 L264.3 208.0 L265.2 208.4 L266.1 208.8 L267.0 209.3 L267.9 209.7 L268.8 210.2 L269.7 210.6 L270.7 211.1 L271.6 211.6 L272.5 212.0 L273.4 212.4 L274.3 212.9 L275.2 213.3 L276.1 213.8 L277.1 214.2 L278.0 214.6 L278.9 215.1 L279.8 215.5 L280.7 215.9 L281.6 216.4 L282.5 216.8 L283.5 217.2 L284.4 217.6 L285.3 218.1 L286.2 218.5 L287.1 218.9 L288.0 219.4 L288.9 219.8 L289.8 220.3 L290.7 220.7 L291.6 221.1 L292.5 221.6 L293.4 222.0 L294.4 222.4 L295.3 222.9 L296.2 223.3 L297.1 223.7 L298.0 224.2 L298.9 224.6 L299.8 225.1 L300.7 225.5 L301.6 225.9 L302.5 226.4 L303.4 226.8 L304.3 227.2 L305.2 227.7 L306.1 228.1 L307.1 228.5 L308.0 229.0 L308.9 229.4 L309.8 229.8 L310.7 230.2 L311.6 230.7 L312.6 231.1 L313.5 231.5 L314.4 231.9 L315.3 232.4 L316.3 232.8 L317.2 233.2 L318.1 233.6 L319.1 234.0 L320.0 234.4 L320.9 234.8 L321.9 235.2 L322.8 235.6 L323.8 236.1 L324.7 236.5 L325.6 236.9 L326.5 237.4 L327.4 237.9 L328.2 238.4 L329.1 239.0 L329.9 239.6 L330.6 240.3 L331.4 241.0 L332.0 241.8 L332.4 242.6 L332.3 243.4 L331.8 244.1 L331.0 244.6 L330.1 244.9 L329.1 245.1 L328.0 245.1 L326.9 245.0 L325.9 244.9 L324.8 244.9 L323.7 244.8 L322.7 244.7 L321.7 244.5 L320.7 244.4 L319.7 244.3 L318.7 244.1 L317.7 243.9 L316.7 243.7 L315.7 243.5 L314.7 243.3 L313.7 243.1 L312.8 242.9 L311.8 242.7 L310.9 242.4 L309.9 242.2 L309.0 241.9 L308.0 241.6 L307.0 241.4 L306.1 241.1 L305.1 240.8 L304.2 240.5 L303.2 240.2 L302.3 239.9 L301.3 239.6 L300.4 239.2 L299.4 238.9 L298.4 238.6 L297.5 238.2 L296.5 237.9 L295.5 237.5 L294.6 237.2 L293.6 236.8 L292.7 236.4 L291.7 236.0 L290.8 235.6 L289.8 235.2 L288.9 234.8 L288.0 234.4 L287.1 233.9 L286.2 233.5 L285.3 233.0 L284.4 232.6 L283.5 232.1 L282.6 231.6 L281.7 231.1 L280.8 230.6 L280.0 230.1 L279.1 229.6 L278.2 229.1 L277.4 228.6 L276.5 228.0 L275.7 227.5 L274.9 227.0 L274.0 226.4 L273.2 225.9 L272.4 225.3 L271.5 224.7 L270.7 224.2 L269.9 223.6 L269.1 223.0 L268.2 222.4 L267.4 221.8 L266.6 221.2 L265.8 220.7 L265.0 220.1 L264.2 219.4 L263.3 218.8 L262.5 218.2 L261.7 217.6 L260.9 217.0 L260.1 216.4 L259.3 215.8 L258.5 215.2 L257.6 214.5 L256.8 213.9 L256.0 213.3 L255.2 212.6 L254.4 212.0 L253.7 211.3 L253.0 210.6 L252.3 209.8 L251.7 209.0 L251.4 208.2 Z" fill="#FF8552" stroke="#B93208" stroke-width="1.7" stroke-linejoin="round"/>
<path d="M221.8 42.1 L222.1 43.0 L222.5 44.0 L222.8 44.9 L223.1 45.9 L223.4 46.8 L223.7 47.7 L224.0 48.7 L224.4 49.6 L224.7 50.6 L225.0 51.5 L225.3 52.4 L225.6 53.4 L226.0 54.3 L226.3 55.2 L226.6 56.2 L226.9 57.1 L227.3 58.1 L227.6 59.0 L227.9 59.9 L228.2 60.9 L228.6 61.8 L228.9 62.7 L229.2 63.7 L229.6 64.6 L229.9 65.5 L230.2 66.5 L230.6 67.4 L230.9 68.4 L231.2 69.3 L231.6 70.2 L231.9 71.2 L232.3 72.1 L232.6 73.0 L232.9 74.0 L233.3 74.9 L233.6 75.8 L234.0 76.8 L234.3 77.7 L234.6 78.7 L235.0 79.6 L235.3 80.5 L235.7 81.5 L236.0 82.4 L236.4 83.3 L236.7 84.3 L237.1 85.2 L237.4 86.1 L237.8 87.1 L238.1 88.0 L238.5 88.9 L238.8 89.9 L239.2 90.8 L239.6 91.7 L239.9 92.7 L240.3 93.6 L240.6 94.5 L241.0 95.5 L241.4 96.4 L241.7 97.3 L242.1 98.3 L242.4 99.2 L242.8 100.1 L243.2 101.1 L243.5 102.0 L243.9 102.9 L244.3 103.8 L244.6 104.8 L245.0 105.7 L245.4 106.6 L245.8 107.6 L246.1 108.5 L246.5 109.4 L246.9 110.4 L247.2 111.3 L247.6 112.2 L248.0 113.1 L248.4 114.1 L248.8 115.0 L249.1 115.9 L249.5 116.8 L249.9 117.8 L250.3 118.7 L250.7 119.6 L251.0 120.5 L251.4 121.5 L251.8 122.4 L252.2 123.3 L252.6 124.2 L253.0 125.2 L253.4 126.1 L253.8 127.0 L254.2 127.9 L254.5 128.9 L254.9 129.8 L255.3 130.7 L255.7 131.6 L256.1 132.6 L256.5 133.5 L256.9 134.4 L257.3 135.3 L257.7 136.2 L258.1 137.2 L258.5 138.1 L258.9 139.0 L259.3 139.9 L259.7 140.8 L260.1 141.7 L260.6 142.7 L261.0 143.6 L261.4 144.5 L261.8 145.4 L262.2 146.3 L262.6 147.2 L263.0 148.2 L263.4 149.1 L263.8 150.0 L264.3 150.9 L264.7 151.8 L265.1 152.7 L265.5 153.6 L265.9 154.6 L266.4 155.5 L266.8 156.4 L267.2 157.3 L267.6 158.2 L268.0 159.1 L268.5 160.0 L268.9 160.9 L269.3 161.8 L269.8 162.7 L270.2 163.7 L270.6 164.6 L271.0 165.5 L271.5 166.4 L271.9 167.3 L272.4 168.2 L272.8 169.1 L273.2 170.0 L273.7 170.9 L274.1 171.8 L274.5 172.7 L275.0 173.6 L275.4 174.5 L275.9 175.4 L276.3 176.3 L276.8 177.2 L277.2 178.1 L277.7 179.0 L278.1 179.9 L278.5 180.8 L279.0 181.7 L279.5 182.6 L279.9 183.5 L280.4 184.4 L280.8 185.3 L281.3 186.2 L281.7 187.1 L282.2 188.0 L282.6 188.9 L283.1 189.8 L283.6 190.7 L284.0 191.5 L284.5 192.4 L285.0 193.3 L285.4 194.2 L285.9 195.1 L286.3 196.0 L286.8 196.9 L287.3 197.8 L287.8 198.7 L288.2 199.5 L288.7 200.4 L289.2 201.3 L289.7 202.2 L290.1 203.1 L290.6 204.0 L291.1 204.8 L291.6 205.7 L292.0 206.6 L292.5 207.5 L293.0 208.4 L293.5 209.2 L294.0 210.1 L294.5 211.0 L294.9 211.9 L295.4 212.8 L295.9 213.6 L296.4 214.5 L296.9 215.4 L297.4 216.3 L297.9 217.1 L298.4 218.0 L298.9 218.9 L299.4 219.7 L299.9 220.6 L300.4 221.5 L300.9 222.4 L301.4 223.2 L301.9 224.1 L302.4 225.0 L302.9 225.8 L303.4 226.7 L303.9 227.6 L304.4 228.4 L304.9 229.3 L305.4 230.1 L305.9 231.0 L306.5 231.9 L307.0 232.7 L307.5 233.6 L308.0 234.4 L308.5 235.3 L309.0 236.2 L309.6 237.0 L310.1 237.9 L310.6 238.7 L311.1 239.6 L311.7 240.4 L312.2 241.3 L312.7 242.1 L313.2 243.0 L313.8 243.8 L314.3 244.7 L314.8 245.5 L315.4 246.4 L315.9 247.2 L316.4 248.1 L317.0 248.9 L317.5 249.8 L318.0 250.6 L318.6 251.5 L319.1 252.3 L319.7 253.1 L320.2 254.0 L320.8 254.8 L321.3 255.7 L321.9 256.5 L322.4 257.3 L322.9 258.2 L323.5 259.0 L324.1 259.8 L324.6 260.7 L325.2 261.5 L325.7 262.3 L326.3 263.2 L326.8 264.0 L327.4 264.8 L327.9 265.7 L328.5 266.5 L329.1 267.3 L329.6 268.1 L330.2 269.0 L330.8 269.8 L331.3 270.6 L331.9 271.4 L332.5 272.3 L333.1 273.1 L333.6 273.9 L334.2 274.7 L334.8 275.5 L335.3 276.3 L335.9 277.2 L336.5 278.0 L337.1 278.8 L337.7 279.6 L338.3 280.4 L338.8 281.2 L339.4 282.0 L340.0 282.8 L340.6 283.7 L341.2 284.5 L341.8 285.3 L342.4 286.1 L343.0 286.9 L343.6 287.7 L344.1 288.5 L344.7 289.3 L345.3 290.1 L345.9 290.9 L346.5 291.7 L347.1 292.5 L347.7 293.3 L348.4 294.1 L349.0 294.9 L349.6 295.7 L350.2 296.4 L350.8 297.2 L351.4 298.0 L352.0 298.8 L352.6 299.6 L353.2 300.4 L353.9 301.2 L354.5 302.0 L355.1 302.7 L355.7 303.5 L356.3 304.3 L357.0 305.1 L357.6 305.9 L358.2 306.6 L358.8 307.4 L359.5 308.2 L360.1 309.0 L360.7 309.8 L361.3 310.5 L362.0 311.3 L362.6 312.1 L363.3 312.8 L363.9 313.6 L364.5 314.4 L365.2 315.1 L365.8 315.9 L366.5 316.7 L367.1 317.4 L367.7 318.2 L368.4 319.0 L369.0 319.7 L369.7 320.5 L370.3 321.2 L371.0 322.0 L371.6 322.7 L372.3 323.5 L373.0 324.3 L373.6 325.0 L374.3 325.8 L374.9 326.5 L375.6 327.2 L376.3 328.0 L376.9 328.7 L377.6 329.5 L378.2 330.2 L378.9 331.0 L379.6 331.7 L380.3 332.5 L380.9 333.2 L381.6 333.9 L382.3 334.7 L383.0 335.4 L383.6 336.1 L384.3 336.9 L385.0 337.6 L385.7 338.3 L386.4 339.1 L387.0 339.8 L387.7 340.5 L388.4 341.2 L389.1 342.0 L389.8 342.7 L390.5 343.4 L391.2 344.1 L391.9 344.8 L392.6 345.6 L393.3 346.3 L394.0 347.0 L394.7 347.7 L395.4 348.4 L396.1 349.1 L396.8 349.8 L397.5 350.6 L398.2 351.3 L398.9 352.0 L399.6 352.7 L400.3 353.4 L401.0 354.1 L401.7 354.8 L402.5 355.5 L403.2 356.2 L403.9 356.9 L404.6 357.6 L405.3 358.3 L406.1 359.0 L406.8 359.7 L407.5 360.3 L408.2 361.0 L409.0 361.7 L409.7 362.4 L410.4 363.1 L411.1 363.8 L411.9 364.5 L412.6 365.2 L413.3 365.8 L414.1 366.5 L414.8 367.2 L415.6 367.9 L416.3 368.5 L417.0 369.2 L417.8 369.9 L418.5 370.6 L419.3 371.2 L420.0 371.9 L420.8 372.6 L421.5 373.2 L422.3 373.9 L423.0 374.6 L423.8 375.2 L424.5 375.9 L425.3 376.6 L426.0 377.2 L426.8 377.9 L427.5 378.5 L428.3 379.2 L429.1 379.8 L429.8 380.5 L430.6 381.1 L431.3 381.8 L432.1 382.4 L432.9 383.1 L433.6 383.7 L434.4 384.4 L435.2 385.0 L435.9 385.7 L436.7 386.3 L437.5 386.9 L438.3 387.6 L439.0 388.2 L439.8 388.9 L440.6 389.5 L441.4 390.1 L442.1 390.8 L442.9 391.4 L443.7 392.0 L444.5 392.7 L445.3 393.3 L446.0 393.9 L446.8 394.5 L447.6 395.2 L448.4 395.8 L449.2 396.4 L450.0 397.0 L450.8 397.6 L451.6 398.2 L452.4 398.9 L453.1 399.5 L453.9 400.1 L454.7 400.7 L455.5 401.3 L456.3 401.9 L457.1 402.5 L457.9 403.1 L458.7 403.7 L459.5 404.3 L460.3 404.9 L461.1 405.5 L461.9 406.1 L462.7 406.7 L463.5 407.3 L464.4 407.9 L465.2 408.5 L466.0 409.1 L466.8 409.7 L467.6 410.3 L468.4 410.9 L469.2 411.5 L470.0 412.1 L470.8 412.6 L471.7 413.2 L472.5 413.8 L473.3 414.4 L474.1 415.0 L474.9 415.5 L475.7 416.1 L476.6 416.7 L477.4 417.3 L478.2 417.8 L479.0 418.4 L479.9 419.0 L480.7 419.6 L481.5 420.1 L482.3 420.7 L483.2 421.3 L484.0 421.8 L484.8 422.4 L485.6 422.9 L486.5 423.5 L487.3 424.1 L488.1 424.6 L489.0 425.2 L489.8 425.7 L490.6 426.3 L491.5 426.8 L492.3 427.4 L493.1 427.9 L494.0 428.5 L494.8 429.0 L495.7 429.6 L496.5 430.1 L497.3 430.7 L498.2 431.2 L499.0 431.8 L499.9 432.3 L500.7 432.8 L501.6 433.4 L502.4 433.9 L503.3 434.4 L504.1 435.0 L504.9 435.5 L505.8 436.0 L506.6 436.6 L507.5 437.1 L508.3 437.6 L509.2 438.1 L510.1 438.7 L510.9 439.2 L511.8 439.7 L512.6 440.2 L513.5 440.8 L514.3 441.3 L515.2 441.8 L516.0 442.3 L516.9 442.8 L517.8 443.3 L518.6 443.8 L519.5 444.4 L520.3 444.9 L521.2 445.4 L522.1 445.9 L522.9 446.4 L523.8 446.9 L524.7 447.4 L525.5 447.9 L526.4 448.4 L527.3 448.9 L528.1 449.4 L529.0 449.9 L529.9 450.4 L530.7 450.9 L531.6 451.4 L532.5 451.9 L533.4 452.4 L534.2 452.9 L535.1 453.3 L536.0 453.8 L536.9 454.3 L537.7 454.8 L538.6 455.3 L539.5 455.8 L540.4 456.3 L541.2 456.7 L542.1 457.2 L543.0 457.7 L543.9 458.2 L544.8 458.6 L545.6 459.1 L546.5 459.6 L547.4 460.1 L548.3 460.5 L549.2 461.0 L550.1 461.5 L550.9 461.9 L551.8 462.4 L552.7 462.9 L553.6 463.3 L554.5 463.8 L555.4 464.3 L556.3 464.7 L557.2 465.2 L558.1 465.6 L558.9 466.1 L559.8 466.6 L560.7 467.0 L561.6 467.5 L562.5 467.9 L563.4 468.4 L564.3 468.8 L565.2 469.3 L566.1 469.7 L567.0 470.2 L567.9 470.6 L568.8 471.0 L569.7 471.5 L570.6 471.9 L571.5 472.4 L572.4 472.8 L573.3 473.3 L574.2 473.7 L575.1 474.1 L576.0 474.6 L576.9 475.0 L577.8 475.4 L578.7 475.9 L579.6 476.3 L580.5 476.7 L581.4 477.1 L582.3 477.6 L583.2 478.0 L584.1 478.4 L585.0 478.8 L585.9 479.3 L586.9 479.7 L587.8 480.1 L588.7 480.5 L589.6 480.9 L590.5 481.4 L591.4 481.8 L592.3 482.2 L593.2 482.6 L594.1 483.0 L595.1 483.4 L596.0 483.8 L596.9 484.2 L597.8 484.6 L598.7 485.1 L599.6 485.5 L600.5 485.9 L601.5 486.3 L602.4 486.7 L603.3 487.1 L604.2 487.5 L605.1 487.9 L606.1 488.3 L607.0 488.7 L607.9 489.0 L608.8 489.4 L609.7 489.8 L610.7 490.2 L611.6 490.6 L612.5 491.0 L613.4 491.4 L614.4 491.8 L615.3 492.2 L616.2 492.5 L617.1 492.9 L618.1 493.3 L619.0 493.7 L619.9 494.1 L620.8 494.4 L621.8 494.8 L622.7 495.2 L623.6 495.6 L624.6 495.9 L625.5 496.3 L626.4 496.7 L627.3 497.1 L628.3 497.4 L629.2 497.8 L630.1 498.2 L631.1 498.5 L632.0 498.9 L632.9 499.3 L633.9 499.6 L634.8 500.0 L635.7 500.3 L636.7 500.7 L637.6 501.1 L638.5 501.4 L639.5 501.8 L640.4 502.1 L641.4 502.5 L642.3 502.8 L643.2 503.2 L644.2 503.5 L645.1 503.9 L646.1 504.2 L647.0 504.6 L647.9 504.9 L648.9 505.2 L649.8 505.6 L650.8 505.9 L651.7 506.3 L652.6 506.6 L653.6 506.9 L654.5 507.3 L655.5 507.6 L656.4 508.0 L657.4 508.3 L658.3 508.6 L659.3 508.9 L660.2 509.3 L661.1 509.6 L662.1 509.9 L663.0 510.3 L664.0 510.6 L664.9 510.9 L665.9 511.2 L666.8 511.5 L667.8 511.9 L668.7 512.2 L669.7 512.5 L670.6 512.8 L671.6 513.1 L672.5 513.5 L673.5 513.8 L674.4 514.1 L675.4 514.4 L676.3 514.7 L677.3 515.0 L678.3 515.3 L679.2 515.6 L680.2 515.9 L681.1 516.2 L682.1 516.5 L683.0 516.8 L684.0 517.1 L684.9 517.4 L685.9 517.7 L686.9 518.0 L687.8 518.3 L688.8 518.6 L689.7 518.9 L690.7 519.2 L691.6 519.5 L692.6 519.8 L693.6 520.1 L694.5 520.4 L695.5 520.6 L696.4 520.9 L697.4 521.2 L698.4 521.5 L699.3 521.8 L700.3 522.1 L701.2 522.3 L702.2 522.6 L703.2 522.9 L704.1 523.2 L705.1 523.5 L706.1 523.7 L707.0 524.0 L708.0 524.3 L709.0 524.5 L709.9 524.8 L710.9 525.1 L711.8 525.3 L712.8 525.6 L713.8 525.9 L714.7 526.1 L715.7 526.4 L716.7 526.7 L717.6 526.9 L718.6 527.2 L719.6 527.4 L720.5 527.7 L721.5 527.9 L722.5 528.2 L723.5 528.5 L724.4 528.7 L725.4 529.0 L726.4 529.2 L727.3 529.5 L728.3 529.7 L729.3 530.0 L730.2 530.2 L731.2 530.4 L732.2 530.7 L733.2 530.9 L734.1 531.2 L735.1 531.4 L736.1 531.6 L737.1 531.9 L738.0 532.1 L739.0 532.4 L740.0 532.6 L740.9 532.8 L741.9 533.0 L742.9 533.3 L743.9 533.5 L744.8 533.7 L745.8 534.0 L746.8 534.2 L747.8 534.4 L748.7 534.6 L749.7 534.9 L750.7 535.1 L751.7 535.3 L752.7 535.5 L753.6 535.7 L754.6 536.0 L755.6 536.2 L756.6 536.4 L757.5 536.6 L758.5 536.8 L759.5 537.0 L760.5 537.2 L761.5 537.4 L762.4 537.6 L763.4 537.8 L764.4 538.1 L765.4 538.3 L766.4 538.5 L767.3 538.7 L768.3 538.9 L769.3 539.1 L770.3 539.3 L771.3 539.5 L772.2 539.6 L773.2 539.8 L774.2 540.0 L775.2 540.2 L776.2 540.4 L777.1 540.6 L778.1 540.8 L779.1 541.0 L780.1 541.2 L781.1 541.4 L782.1 541.5 L783.0 541.7 L784.0 541.9 L785.0 542.1 L786.0 542.3 L787.0 542.4 L788.0 542.6 L789.0 542.8 L789.9 543.0" fill="none" stroke="#2E8B57" stroke-width="4.0" stroke-linejoin="round"/>
<path d="M173.1 43.5 L173.5 44.4 L173.8 45.4 L174.1 46.3 L174.5 47.3 L174.8 48.2 L175.2 49.2 L175.5 50.1 L175.9 51.1 L176.2 52.0 L176.6 53.0 L176.9 53.9 L177.3 54.9 L177.7 55.8 L178.0 56.8 L178.4 57.7 L178.8 58.7 L179.2 59.6 L179.5 60.5 L179.9 61.5 L180.3 62.4 L180.7 63.3 L181.1 64.3 L181.5 65.2 L181.9 66.1 L182.3 67.1 L182.7 68.0 L183.1 68.9 L183.5 69.9 L183.9 70.8 L184.3 71.7 L184.7 72.6 L185.2 73.5 L185.6 74.5 L186.0 75.4 L186.4 76.3 L186.9 77.2 L187.3 78.1 L187.7 79.0 L188.2 80.0 L188.6 80.9 L189.1 81.8 L189.5 82.7 L189.9 83.6 L190.4 84.5 L190.9 85.4 L191.3 86.3 L191.8 87.2 L192.2 88.1 L192.7 89.0 L193.2 89.9 L193.6 90.8 L194.1 91.7 L194.6 92.5 L195.1 93.4 L195.6 94.3 L196.0 95.2 L196.5 96.1 L197.0 97.0 L197.5 97.9 L198.0 98.7 L198.5 99.6 L199.0 100.5 L199.5 101.4 L200.0 102.2 L200.5 103.1 L201.0 104.0 L201.5 104.8 L202.1 105.7 L202.6 106.6 L203.1 107.4 L203.6 108.3 L204.1 109.1 L204.7 110.0 L205.2 110.9 L205.7 111.7 L206.3 112.6 L206.8 113.4 L207.4 114.3 L207.9 115.1 L208.5 115.9 L209.0 116.8 L209.6 117.6 L210.1 118.5 L210.7 119.3 L211.2 120.1 L211.8 121.0 L212.4 121.8 L212.9 122.6 L213.5 123.5 L214.1 124.3 L214.7 125.1 L215.2 125.9 L215.8 126.7 L216.4 127.6 L217.0 128.4 L217.6 129.2 L218.2 130.0 L218.8 130.8 L219.4 131.6 L219.9 132.4 L220.6 133.2 L221.2 134.0 L221.8 134.8 L222.4 135.6 L223.0 136.4 L223.6 137.2 L224.2 138.0 L224.8 138.8 L225.5 139.6 L226.1 140.3 L226.7 141.1 L227.3 141.9 L228.0 142.7 L228.6 143.5 L229.2 144.2 L229.9 145.0 L230.5 145.8 L231.2 146.5 L231.8 147.3 L232.5 148.1 L233.1 148.8 L233.8 149.6 L234.4 150.3 L235.1 151.1 L235.7 151.8 L236.4 152.6 L237.1 153.3 L237.7 154.1 L238.4 154.8 L239.1 155.5 L239.7 156.3 L240.4 157.0 L241.1 157.7 L241.8 158.5 L242.5 159.2 L243.2 159.9 L243.9 160.6 L244.5 161.4 L245.2 162.1 L245.9 162.8 L246.6 163.5 L247.3 164.2 L248.0 164.9 L248.7 165.6 L249.5 166.3 L250.2 167.0 L250.9 167.7 L251.6 168.4 L252.3 169.1 L253.0 169.8 L253.8 170.5 L254.5 171.2 L255.2 171.8 L255.9 172.5 L256.7 173.2 L257.4 173.9 L258.1 174.5 L258.9 175.2 L259.6 175.9 L260.4 176.5 L261.1 177.2 L261.9 177.9 L262.6 178.5 L263.4 179.2 L264.1 179.8 L264.9 180.5 L265.6 181.1 L266.4 181.8 L267.1 182.4 L267.9 183.1 L268.7 183.7 L269.4 184.3 L270.2 185.0 L271.0 185.6 L271.7 186.2 L272.5 186.8 L273.3 187.5 L274.1 188.1 L274.9 188.7 L275.6 189.3 L276.4 189.9 L277.2 190.5 L278.0 191.2 L278.8 191.8 L279.6 192.4 L280.4 193.0 L281.2 193.6 L282.0 194.2 L282.8 194.8 L283.6 195.4 L284.4 195.9 L285.2 196.5 L286.0 197.1 L286.8 197.7 L287.6 198.3 L288.4 198.9 L289.2 199.4 L290.1 200.0 L290.9 200.6 L291.7 201.2 L292.5 201.7 L293.3 202.3 L294.2 202.8 L295.0 203.4 L295.8 204.0 L296.7 204.5 L297.5 205.1 L298.3 205.6 L299.2 206.2 L300.0 206.7 L300.8 207.3 L301.7 207.8 L302.5 208.3 L303.4 208.9 L304.2 209.4 L305.0 209.9 L305.9 210.5 L306.7 211.0 L307.6 211.5 L308.4 212.0 L309.3 212.6 L310.1 213.1 L311.0 213.6 L311.9 214.1 L312.7 214.6 L313.6 215.1 L314.4 215.6 L315.3 216.1 L316.2 216.7 L317.0 217.2 L317.9 217.6 L318.8 218.1 L319.6 218.6 L320.5 219.1 L321.4 219.6 L322.3 220.1 L323.1 220.6 L324.0 221.1 L324.9 221.5 L325.8 222.0 L326.7 222.5 L327.5 223.0 L328.4 223.4 L329.3 223.9 L330.2 224.4 L331.1 224.8 L332.0 225.3 L332.9 225.8 L333.7 226.2 L334.6 226.7 L335.5 227.1 L336.4 227.6 L337.3 228.0 L338.2 228.5 L339.1 228.9 L340.0 229.4 L340.9 229.8 L341.8 230.2 L342.7 230.7 L343.6 231.1 L344.5 231.5 L345.4 232.0 L346.3 232.4 L347.2 232.8 L348.1 233.2 L349.1 233.6 L350.0 234.1 L350.9 234.5 L351.8 234.9 L352.7 235.3 L353.6 235.7 L354.5 236.1 L355.4 236.5 L356.4 236.9 L357.3 237.3 L358.2 237.7 L359.1 238.1 L360.0 238.5 L361.0 238.9 L361.9 239.3 L362.8 239.7 L363.7 240.1 L364.6 240.4 L365.6 240.8 L366.5 241.2 L367.4 241.6 L368.3 241.9 L369.3 242.3 L370.2 242.7 L371.1 243.1 L372.1 243.4 L373.0 243.8 L373.9 244.1 L374.9 244.5 L375.8 244.9 L376.7 245.2 L377.7 245.6 L378.6 245.9 L379.5 246.3 L380.5 246.6 L381.4 247.0 L382.4 247.3 L383.3 247.6 L384.2 248.0 L385.2 248.3 L386.1 248.7 L387.1 249.0 L388.0 249.3 L388.9 249.7 L389.9 250.0 L390.8 250.3 L391.8 250.6 L392.7 251.0 L393.7 251.3 L394.6 251.6 L395.6 251.9 L396.5 252.2 L397.5 252.5 L398.4 252.9 L399.4 253.2 L400.3 253.5 L401.3 253.8 L402.2 254.1 L403.2 254.4 L404.1 254.7 L405.1 255.0 L406.1 255.3 L407.0 255.6 L408.0 255.9 L408.9 256.2 L409.9 256.5 L410.8 256.7 L411.8 257.0 L412.8 257.3 L413.7 257.6 L414.7 257.9 L415.7 258.2 L416.6 258.4 L417.6 258.7 L418.5 259.0 L419.5 259.3 L420.5 259.5 L421.4 259.8 L422.4 260.1 L423.4 260.4 L424.3 260.6 L425.3 260.9 L426.3 261.1 L427.2 261.4 L428.2 261.7 L429.2 261.9 L430.2 262.2 L431.1 262.4 L432.1 262.7 L433.1 263.0 L434.0 263.2 L435.0 263.5 L436.0 263.7 L437.0 263.9 L437.9 264.2 L438.9 264.4 L439.9 264.7 L440.9 264.9 L441.8 265.2 L442.8 265.4 L443.8 265.6 L444.8 265.9 L445.7 266.1 L446.7 266.3 L447.7 266.6 L448.7 266.8 L449.7 267.0 L450.6 267.3 L451.6 267.5 L452.6 267.7 L453.6 267.9 L454.6 268.2 L455.5 268.4 L456.5 268.6 L457.5 268.8 L458.5 269.0 L459.5 269.3 L460.4 269.5 L461.4 269.7 L462.4 269.9 L463.4 270.1 L464.4 270.3 L465.4 270.5 L466.4 270.7 L467.3 270.9 L468.3 271.1 L469.3 271.3 L470.3 271.6 L471.3 271.8 L472.3 272.0 L473.3 272.2 L474.2 272.4 L475.2 272.5 L476.2 272.7 L477.2 272.9 L478.2 273.1 L479.2 273.3 L480.2 273.5 L481.2 273.7 L482.2 273.9 L483.1 274.1 L484.1 274.3 L485.1 274.5 L486.1 274.7 L487.1 274.8 L488.1 275.0 L489.1 275.2 L490.1 275.4 L491.1 275.6 L492.1 275.8 L493.1 275.9 L494.0 276.1 L495.0 276.3 L496.0 276.5 L497.0 276.6 L498.0 276.8 L499.0 277.0 L500.0 277.2 L501.0 277.3 L502.0 277.5 L503.0 277.7 L504.0 277.8 L505.0 278.0 L506.0 278.2 L507.0 278.4 L507.9 278.5 L508.9 278.7 L509.9 278.8 L510.9 279.0 L511.9 279.2 L512.9 279.3 L513.9 279.5 L514.9 279.7 L515.9 279.8 L516.9 280.0 L517.9 280.1 L518.9 280.3 L519.9 280.5 L520.9 280.6 L521.9 280.8 L522.9 280.9 L523.9 281.1 L524.9 281.2 L525.8 281.4 L526.8 281.5 L527.8 281.7 L528.8 281.8 L529.8 282.0 L530.8 282.2 L531.8 282.3 L532.8 282.5 L533.8 282.6 L534.8 282.7 L535.8 282.9 L536.8 283.0 L537.8 283.2 L538.8 283.3 L539.8 283.5 L540.8 283.6 L541.8 283.8 L542.8 283.9 L543.8 284.1 L544.7 284.2 L545.7 284.3 L546.7 284.5 L547.7 284.6 L548.7 284.8 L549.7 284.9 L550.7 285.1 L551.7 285.2 L552.7 285.3 L553.7 285.5 L554.7 285.6 L555.7 285.7 L556.7 285.9 L557.7 286.0 L558.7 286.2 L559.7 286.3 L560.6 286.4 L561.6 286.6 L562.6 286.7 L563.6 286.8 L564.6 287.0 L565.6 287.1 L566.6 287.2 L567.6 287.4 L568.6 287.5 L569.6 287.6 L570.6 287.8 L571.6 287.9 L572.6 288.0 L573.6 288.2 L574.5 288.3 L575.5 288.4 L576.5 288.5 L577.5 288.7 L578.5 288.8 L579.5 288.9 L580.5 289.0 L581.5 289.2 L582.5 289.3 L583.5 289.4 L584.5 289.5 L585.5 289.7 L586.5 289.8 L587.4 289.9 L588.4 290.0 L589.4 290.2 L590.4 290.3 L591.4 290.4 L592.4 290.5 L593.4 290.6 L594.4 290.8 L595.4 290.9 L596.4 291.0 L597.4 291.1 L598.4 291.2 L599.4 291.3 L600.3 291.5 L601.3 291.6 L602.3 291.7 L603.3 291.8 L604.3 291.9 L605.3 292.0 L606.3 292.2 L607.3 292.3 L608.3 292.4 L609.3 292.5 L610.3 292.6 L611.3 292.7 L612.3 292.8 L613.2 292.9 L614.2 293.0 L615.2 293.2 L616.2 293.3 L617.2 293.4 L618.2 293.5 L619.2 293.6 L620.2 293.7 L621.2 293.8 L622.2 293.9 L623.2 294.0 L624.2 294.1 L625.1 294.2 L626.1 294.3 L627.1 294.4 L628.1 294.5 L629.1 294.6 L630.1 294.7 L631.1 294.8 L632.1 294.9 L633.1 295.0 L634.1 295.1 L635.1 295.2 L636.1 295.3 L637.1 295.4 L638.1 295.5 L639.0 295.6 L640.0 295.7 L641.0 295.8 L642.0 295.9 L643.0 296.0 L644.0 296.1 L645.0 296.2 L646.0 296.3 L647.0 296.4 L648.0 296.5 L649.0 296.6 L650.0 296.7 L651.0 296.7 L652.0 296.8 L652.9 296.9 L653.9 297.0 L654.9 297.1 L655.9 297.2 L656.9 297.3 L657.9 297.4 L658.9 297.5 L659.9 297.5 L660.9 297.6 L661.9 297.7 L662.9 297.8 L663.9 297.9 L664.9 298.0 L665.9 298.1 L666.9 298.1 L667.9 298.2 L668.8 298.3 L669.8 298.4 L670.8 298.5 L671.8 298.5 L672.8 298.6 L673.8 298.7 L674.8 298.8 L675.8 298.9 L676.8 298.9 L677.8 299.0 L678.8 299.1 L679.8 299.2 L680.8 299.2 L681.8 299.3 L682.8 299.4 L683.8 299.5 L684.8 299.5 L685.8 299.6 L686.8 299.7 L687.8 299.8 L688.8 299.8 L689.8 299.9 L690.7 300.0 L691.7 300.0 L692.7 300.1 L693.7 300.2 L694.7 300.3 L695.7 300.3 L696.7 300.4 L697.7 300.5 L698.7 300.5 L699.7 300.6 L700.7 300.7 L701.7 300.7 L702.7 300.8 L703.7 300.9 L704.7 300.9 L705.7 301.0 L706.7 301.0 L707.7 301.1 L708.7 301.2 L709.7 301.2 L710.7 301.3 L711.7 301.3 L712.7 301.4 L713.7 301.5 L714.7 301.5 L715.7 301.6 L716.7 301.6 L717.7 301.7 L718.7 301.8 L719.7 301.8 L720.7 301.9 L721.7 301.9 L722.7 302.0 L723.7 302.0 L724.7 302.1 L725.7 302.1 L726.7 302.2 L727.7 302.2 L728.7 302.3 L729.7 302.3 L730.7 302.4 L731.7 302.4 L732.7 302.5 L733.7 302.5 L734.7 302.6 L735.7 302.6 L736.7 302.7 L737.7 302.7 L738.7 302.8 L739.7 302.8 L740.7 302.9 L741.7 302.9 L742.7 302.9 L743.7 303.0 L744.7 303.0 L745.7 303.1 L746.7 303.1 L747.7 303.2 L748.7 303.2 L749.8 303.2 L750.8 303.3 L751.8 303.3 L752.8 303.4 L753.8 303.4 L754.8 303.4 L755.8 303.5 L756.8 303.5 L757.8 303.5 L758.8 303.6 L759.8 303.6 L760.8 303.7 L761.8 303.7 L762.8 303.7 L763.8 303.8 L764.8 303.8 L765.8 303.8 L766.9 303.8 L767.9 303.9 L768.9 303.9 L769.9 303.9 L770.9 304.0 L771.9 304.0 L772.9 304.0 L773.9 304.1 L774.9 304.1 L775.9 304.1 L776.9 304.1 L778.0 304.2 L779.0 304.2 L780.0 304.2 L781.0 304.2 L782.0 304.3 L783.0 304.3 L784.0 304.3 L785.0 304.3 L786.0 304.3 L787.0 304.4 L788.1 304.4 L789.1 304.4 L790.1 304.4" fill="none" stroke="#6B8E23" stroke-width="4.0" stroke-linejoin="round" stroke-dasharray="14.00 7.10" stroke-dashoffset="11.82"/>
<path d="M146.4 67.3 L146.6 68.3 L146.9 69.3 L147.1 70.3 L147.3 71.2 L147.6 72.2 L147.8 73.2 L148.1 74.2 L148.3 75.2 L148.6 76.2 L148.8 77.2 L149.1 78.2 L149.3 79.1 L149.6 80.1 L149.9 81.1 L150.1 82.1 L150.4 83.1 L150.7 84.0 L151.0 85.0 L151.3 86.0 L151.6 87.0 L151.9 87.9 L152.1 88.9 L152.4 89.9 L152.7 90.9 L153.1 91.8 L153.4 92.8 L153.7 93.8 L154.0 94.7 L154.3 95.7 L154.6 96.6 L155.0 97.6 L155.3 98.6 L155.6 99.5 L155.9 100.5 L156.3 101.4 L156.6 102.4 L157.0 103.4 L157.3 104.3 L157.7 105.3 L158.0 106.2 L158.4 107.2 L158.7 108.1 L159.1 109.0 L159.4 110.0 L159.8 110.9 L160.2 111.9 L160.6 112.8 L160.9 113.8 L161.3 114.7 L161.7 115.6 L162.1 116.6 L162.5 117.5 L162.9 118.4 L163.3 119.4 L163.7 120.3 L164.1 121.2 L164.5 122.1 L164.9 123.1 L165.3 124.0 L165.7 124.9 L166.1 125.8 L166.5 126.7 L167.0 127.7 L167.4 128.6 L167.8 129.5 L168.2 130.4 L168.7 131.3 L169.1 132.2 L169.6 133.1 L170.0 134.0 L170.4 134.9 L170.9 135.8 L171.3 136.7 L171.8 137.6 L172.3 138.5 L172.7 139.4 L173.2 140.3 L173.6 141.2 L174.1 142.1 L174.6 143.0 L175.1 143.9 L175.5 144.8 L176.0 145.7 L176.5 146.5 L177.0 147.4 L177.5 148.3 L178.0 149.2 L178.5 150.1 L179.0 150.9 L179.5 151.8 L180.0 152.7 L180.5 153.5 L181.0 154.4 L181.5 155.3 L182.0 156.1 L182.5 157.0 L183.1 157.8 L183.6 158.7 L184.1 159.6 L184.6 160.4 L185.2 161.3 L185.7 162.1 L186.2 163.0 L186.8 163.8 L187.3 164.7 L187.9 165.5 L188.4 166.3 L189.0 167.2 L189.5 168.0 L190.1 168.8 L190.6 169.7 L191.2 170.5 L191.8 171.3 L192.3 172.2 L192.9 173.0 L193.5 173.8 L194.0 174.6 L194.6 175.4 L195.2 176.3 L195.8 177.1 L196.4 177.9 L197.0 178.7 L197.6 179.5 L198.1 180.3 L198.7 181.1 L199.3 181.9 L199.9 182.7 L200.5 183.5 L201.2 184.3 L201.8 185.1 L202.4 185.9 L203.0 186.7 L203.6 187.5 L204.2 188.2 L204.9 189.0 L205.5 189.8 L206.1 190.6 L206.7 191.4 L207.4 192.1 L208.0 192.9 L208.6 193.7 L209.3 194.4 L209.9 195.2 L210.6 196.0 L211.2 196.7 L211.9 197.5 L212.5 198.2 L213.2 199.0 L213.8 199.7 L214.5 200.5 L215.2 201.2 L215.8 202.0 L216.5 202.7 L217.2 203.4 L217.8 204.2 L218.5 204.9 L219.2 205.6 L219.9 206.4 L220.5 207.1 L221.2 207.8 L221.9 208.5 L222.6 209.3 L223.3 210.0 L224.0 210.7 L224.7 211.4 L225.4 212.1 L226.1 212.8 L226.8 213.5 L227.5 214.2 L228.2 214.9 L228.9 215.6 L229.6 216.3 L230.3 217.0 L231.1 217.7 L231.8 218.4 L232.5 219.1 L233.2 219.8 L233.9 220.5 L234.7 221.1 L235.4 221.8 L236.1 222.5 L236.9 223.2 L237.6 223.8 L238.3 224.5 L239.1 225.2 L239.8 225.8 L240.6 226.5 L241.3 227.2 L242.1 227.8 L242.8 228.5 L243.6 229.1 L244.3 229.8 L245.1 230.4 L245.8 231.1 L246.6 231.7 L247.4 232.4 L248.1 233.0 L248.9 233.6 L249.7 234.3 L250.4 234.9 L251.2 235.5 L252.0 236.1 L252.8 236.8 L253.5 237.4 L254.3 238.0 L255.1 238.6 L255.9 239.2 L256.7 239.9 L257.5 240.5 L258.3 241.1 L259.0 241.7 L259.8 242.3 L260.6 242.9 L261.4 243.5 L262.2 244.1 L263.0 244.7 L263.8 245.3 L264.6 245.8 L265.4 246.4 L266.3 247.0 L267.1 247.6 L267.9 248.2 L268.7 248.7 L269.5 249.3 L270.3 249.9 L271.1 250.5 L272.0 251.0 L272.8 251.6 L273.6 252.1 L274.4 252.7 L275.3 253.3 L276.1 253.8 L276.9 254.4 L277.8 254.9 L278.6 255.5 L279.4 256.0 L280.3 256.6 L281.1 257.1 L281.9 257.6 L282.8 258.2 L283.6 258.7 L284.5 259.2 L285.3 259.8 L286.2 260.3 L287.0 260.8 L287.9 261.3 L288.7 261.8 L289.6 262.4 L290.4 262.9 L291.3 263.4 L292.1 263.9 L293.0 264.4 L293.9 264.9 L294.7 265.4 L295.6 265.9 L296.5 266.4 L297.3 266.9 L298.2 267.4 L299.1 267.9 L299.9 268.4 L300.8 268.8 L301.7 269.3 L302.6 269.8 L303.4 270.3 L304.3 270.7 L305.2 271.2 L306.1 271.7 L307.0 272.2 L307.8 272.6 L308.7 273.1 L309.6 273.5 L310.5 274.0 L311.4 274.4 L312.3 274.9 L313.2 275.3 L314.1 275.8 L315.0 276.2 L315.9 276.7 L316.8 277.1 L317.6 277.6 L318.5 278.0 L319.4 278.4 L320.3 278.9 L321.2 279.3 L322.2 279.7 L323.1 280.1 L324.0 280.5 L324.9 281.0 L325.8 281.4 L326.7 281.8 L327.6 282.2 L328.5 282.6 L329.4 283.0 L330.3 283.4 L331.2 283.8 L332.2 284.2 L333.1 284.6 L334.0 285.0 L334.9 285.4 L335.8 285.8 L336.7 286.2 L337.7 286.5 L338.6 286.9 L339.5 287.3 L340.4 287.7 L341.4 288.0 L342.3 288.4 L343.2 288.8 L344.1 289.2 L345.1 289.5 L346.0 289.9 L346.9 290.2 L347.9 290.6 L348.8 291.0 L349.7 291.3 L350.7 291.7 L351.6 292.0 L352.5 292.3 L353.5 292.7 L354.4 293.0 L355.4 293.4 L356.3 293.7 L357.2 294.0 L358.2 294.4 L359.1 294.7 L360.1 295.0 L361.0 295.4 L362.0 295.7 L362.9 296.0 L363.8 296.3 L364.8 296.7 L365.7 297.0 L366.7 297.3 L367.6 297.6 L368.6 297.9 L369.5 298.2 L370.5 298.5 L371.5 298.8 L372.4 299.1 L373.4 299.4 L374.3 299.7 L375.3 300.0 L376.2 300.3 L377.2 300.6 L378.1 300.9 L379.1 301.2 L380.1 301.5 L381.0 301.8 L382.0 302.1 L382.9 302.3 L383.9 302.6 L384.9 302.9 L385.8 303.2 L386.8 303.4 L387.8 303.7 L388.7 304.0 L389.7 304.2 L390.7 304.5 L391.6 304.8 L392.6 305.0 L393.6 305.3 L394.5 305.6 L395.5 305.8 L396.5 306.1 L397.5 306.3 L398.4 306.6 L399.4 306.8 L400.4 307.1 L401.3 307.3 L402.3 307.6 L403.3 307.8 L404.3 308.1 L405.2 308.3 L406.2 308.5 L407.2 308.8 L408.2 309.0 L409.2 309.3 L410.1 309.5 L411.1 309.7 L412.1 309.9 L413.1 310.2 L414.1 310.4 L415.0 310.6 L416.0 310.8 L417.0 311.1 L418.0 311.3 L419.0 311.5 L419.9 311.7 L420.9 311.9 L421.9 312.2 L422.9 312.4 L423.9 312.6 L424.9 312.8 L425.9 313.0 L426.8 313.2 L427.8 313.4 L428.8 313.6 L429.8 313.8 L430.8 314.0 L431.8 314.2 L432.8 314.4 L433.7 314.6 L434.7 314.8 L435.7 315.0 L436.7 315.2 L437.7 315.4 L438.7 315.6 L439.7 315.8 L440.7 316.0 L441.7 316.1 L442.7 316.3 L443.6 316.5 L444.6 316.7 L445.6 316.9 L446.6 317.1 L447.6 317.2 L448.6 317.4 L449.6 317.6 L450.6 317.8 L451.6 317.9 L452.6 318.1 L453.6 318.3 L454.6 318.5 L455.6 318.6 L456.6 318.8 L457.6 319.0 L458.5 319.1 L459.5 319.3 L460.5 319.5 L461.5 319.6 L462.5 319.8 L463.5 319.9 L464.5 320.1 L465.5 320.3 L466.5 320.4 L467.5 320.6 L468.5 320.7 L469.5 320.9 L470.5 321.0 L471.5 321.2 L472.5 321.3 L473.5 321.5 L474.5 321.6 L475.5 321.8 L476.5 321.9 L477.5 322.1 L478.5 322.2 L479.5 322.4 L480.5 322.5 L481.5 322.7 L482.5 322.8 L483.5 323.0 L484.4 323.1 L485.4 323.2 L486.4 323.4 L487.4 323.5 L488.4 323.6 L489.4 323.8 L490.4 323.9 L491.4 324.1 L492.4 324.2 L493.4 324.3 L494.4 324.5 L495.4 324.6 L496.4 324.7 L497.4 324.9 L498.4 325.0 L499.4 325.1 L500.4 325.2 L501.4 325.4 L502.4 325.5 L503.4 325.6 L504.4 325.7 L505.4 325.9 L506.4 326.0 L507.4 326.1 L508.4 326.2 L509.4 326.4 L510.4 326.5 L511.4 326.6 L512.3 326.7 L513.3 326.8 L514.3 326.9 L515.3 327.1 L516.3 327.2 L517.3 327.3 L518.3 327.4 L519.3 327.5 L520.3 327.6 L521.3 327.7 L522.3 327.9 L523.3 328.0 L524.3 328.1 L525.3 328.2 L526.3 328.3 L527.3 328.4 L528.3 328.5 L529.3 328.6 L530.3 328.7 L531.3 328.8 L532.3 328.9 L533.3 329.0 L534.3 329.1 L535.3 329.2 L536.3 329.3 L537.2 329.4 L538.2 329.5 L539.2 329.6 L540.2 329.7 L541.2 329.8 L542.2 329.9 L543.2 330.0 L544.2 330.1 L545.2 330.2 L546.2 330.3 L547.2 330.4 L548.2 330.5 L549.2 330.6 L550.2 330.7 L551.2 330.8 L552.2 330.9 L553.2 331.0 L554.2 331.0 L555.2 331.1 L556.2 331.2 L557.2 331.3 L558.2 331.4 L559.2 331.5 L560.2 331.6 L561.1 331.7 L562.1 331.7 L563.1 331.8 L564.1 331.9 L565.1 332.0 L566.1 332.1 L567.1 332.1 L568.1 332.2 L569.1 332.3 L570.1 332.4 L571.1 332.5 L572.1 332.5 L573.1 332.6 L574.1 332.7 L575.1 332.8 L576.1 332.9 L577.1 332.9 L578.1 333.0 L579.1 333.1 L580.1 333.2 L581.1 333.2 L582.1 333.3 L583.1 333.4 L584.1 333.4 L585.0 333.5 L586.0 333.6 L587.0 333.7 L588.0 333.7 L589.0 333.8 L590.0 333.9 L591.0 333.9 L592.0 334.0 L593.0 334.1 L594.0 334.1 L595.0 334.2 L596.0 334.3 L597.0 334.3 L598.0 334.4 L599.0 334.5 L600.0 334.5 L601.0 334.6 L602.0 334.6 L603.0 334.7 L604.0 334.8 L605.0 334.8 L606.0 334.9 L607.0 334.9 L608.0 335.0 L609.0 335.1 L610.0 335.1 L611.0 335.2 L611.9 335.2 L612.9 335.3 L613.9 335.3 L614.9 335.4 L615.9 335.5 L616.9 335.5 L617.9 335.6 L618.9 335.6 L619.9 335.7 L620.9 335.7 L621.9 335.8 L622.9 335.8 L623.9 335.9 L624.9 335.9 L625.9 336.0 L626.9 336.0 L627.9 336.1 L628.9 336.1 L629.9 336.2 L630.9 336.2 L631.9 336.3 L632.9 336.3 L633.9 336.4 L634.9 336.4 L635.9 336.5 L636.9 336.5 L637.9 336.6 L638.9 336.6 L639.9 336.7 L640.9 336.7 L641.9 336.8 L642.9 336.8 L643.8 336.8 L644.8 336.9 L645.8 336.9 L646.8 337.0 L647.8 337.0 L648.8 337.1 L649.8 337.1 L650.8 337.1 L651.8 337.2 L652.8 337.2 L653.8 337.3 L654.8 337.3 L655.8 337.3 L656.8 337.4 L657.8 337.4 L658.8 337.5 L659.8 337.5 L660.8 337.5 L661.8 337.6 L662.8 337.6 L663.8 337.6 L664.8 337.7 L665.8 337.7 L666.8 337.8 L667.8 337.8 L668.8 337.8 L669.8 337.9 L670.8 337.9 L671.8 337.9 L672.8 338.0 L673.8 338.0 L674.8 338.0 L675.8 338.1 L676.8 338.1 L677.8 338.1 L678.8 338.2 L679.8 338.2 L680.8 338.2 L681.8 338.3 L682.8 338.3 L683.8 338.3 L684.8 338.4 L685.8 338.4 L686.8 338.4 L687.8 338.4 L688.8 338.5 L689.8 338.5 L690.8 338.5 L691.8 338.6 L692.8 338.6 L693.8 338.6 L694.8 338.7 L695.8 338.7 L696.8 338.7 L697.8 338.7 L698.8 338.8 L699.8 338.8 L700.8 338.8 L701.8 338.8 L702.8 338.9 L703.8 338.9 L704.8 338.9 L705.8 339.0 L706.8 339.0 L707.8 339.0 L708.8 339.0 L709.8 339.1 L710.8 339.1 L711.8 339.1 L712.8 339.1 L713.8 339.2 L714.8 339.2 L715.8 339.2 L716.8 339.2 L717.8 339.3 L718.8 339.3 L719.8 339.3 L720.8 339.3 L721.8 339.4 L722.8 339.4 L723.8 339.4 L724.8 339.4 L725.8 339.4 L726.8 339.5 L727.8 339.5 L728.8 339.5 L729.8 339.5 L730.8 339.6 L731.8 339.6 L732.8 339.6 L733.8 339.6 L734.8 339.6 L735.8 339.7 L736.8 339.7 L737.8 339.7 L738.8 339.7 L739.8 339.8 L740.8 339.8 L741.8 339.8 L742.8 339.8 L743.8 339.8 L744.8 339.9 L745.8 339.9 L746.8 339.9 L747.8 339.9 L748.8 339.9 L749.8 340.0 L750.8 340.0 L751.8 340.0 L752.8 340.0 L753.8 340.0 L754.8 340.1 L755.9 340.1 L756.9 340.1 L757.9 340.1 L758.9 340.1 L759.9 340.2 L760.9 340.2 L761.9 340.2 L762.9 340.2 L763.9 340.2 L764.9 340.3 L765.9 340.3 L766.9 340.3 L767.9 340.3 L768.9 340.3 L769.9 340.4 L770.9 340.4 L771.9 340.4 L772.9 340.4 L773.9 340.4 L774.9 340.5 L775.9 340.5 L776.9 340.5 L777.9 340.5 L779.0 340.5 L780.0 340.6 L781.0 340.6 L782.0 340.6 L783.0 340.6 L784.0 340.6 L785.0 340.7 L786.0 340.7 L787.0 340.7 L788.0 340.7 L789.0 340.7 L790.0 340.8" fill="none" stroke="#000080" stroke-width="4.0" stroke-linejoin="round" stroke-dasharray="6.40 6.75" stroke-dashoffset="4.06"/>
<path d="M141.4 133.1 L142.1 133.8 L142.8 134.5 L143.6 135.2 L144.3 135.8 L145.1 136.5 L145.8 137.2 L146.6 137.8 L147.3 138.5 L148.1 139.1 L148.9 139.7 L149.7 140.3 L150.5 140.9 L151.3 141.5 L152.1 142.1 L152.9 142.7 L153.7 143.3 L154.5 143.9 L155.3 144.5 L156.1 145.0 L157.0 145.6 L157.8 146.1 L158.6 146.7 L159.5 147.2 L160.3 147.7 L161.2 148.3 L162.0 148.8 L162.9 149.3 L163.7 149.8 L164.6 150.3 L165.5 150.8 L166.3 151.3 L167.2 151.8 L168.1 152.3 L169.0 152.8 L169.9 153.3 L170.7 153.7 L171.6 154.2 L172.5 154.7 L173.4 155.2 L174.3 155.6 L175.2 156.1 L176.1 156.5 L177.0 157.0 L177.9 157.5 L178.8 157.9 L179.7 158.4 L180.6 158.8 L181.5 159.3 L182.4 159.7 L183.3 160.1 L184.2 160.6 L185.1 161.0 L186.0 161.5 L186.9 161.9 L187.8 162.3 L188.8 162.8 L189.7 163.2 L190.6 163.7 L191.5 164.1 L192.4 164.5 L193.3 165.0 L194.2 165.4 L195.1 165.9 L196.0 166.3 L196.9 166.8 L197.8 167.2 L198.7 167.7 L199.6 168.1 L200.5 168.6 L201.4 169.0 L202.3 169.5 L203.2 169.9 L204.1 170.4 L205.0 170.9 L205.8 171.3 L206.7 171.8 L207.6 172.3 L208.5 172.7 L209.4 173.2 L210.2 173.7 L211.1 174.2 L212.0 174.7 L212.8 175.2 L213.7 175.7 L214.6 176.2 L215.4 176.7 L216.3 177.2 L217.1 177.8 L217.9 178.3 L218.8 178.8 L219.6 179.3 L220.4 179.9 L221.3 180.4 L222.1 181.0 L222.9 181.6 L223.7 182.1 L224.5 182.7 L225.3 183.3 L226.1 183.9 L226.9 184.5 L227.7 185.1 L228.5 185.7 L229.2 186.3 L230.0 186.9 L230.8 187.5 L231.5 188.2 L232.3 188.8 L233.0 189.4 L233.8 190.1 L234.5 190.7 L235.3 191.4 L236.0 192.1 L236.8 192.7 L237.5 193.4 L238.2 194.1 L239.0 194.7 L239.7 195.4 L240.4 196.1 L241.2 196.8 L241.9 197.5 L242.6 198.2 L243.3 198.9 L244.0 199.6 L244.7 200.3 L245.5 201.0 L246.2 201.7 L246.9 202.4 L247.6 203.1 L248.3 203.8 L249.0 204.5 L249.7 205.2 L250.4 205.9 L251.1 206.6 L251.8 207.4 L252.5 208.1 L253.2 208.8 L253.9 209.5 L254.6 210.2 L255.3 211.0 L256.0 211.7 L256.7 212.4 L257.4 213.1 L258.1 213.8 L258.8 214.6 L259.5 215.3 L260.2 216.0 L260.9 216.7 L261.7 217.4 L262.4 218.1 L263.1 218.8 L263.8 219.5 L264.5 220.3 L265.2 221.0 L265.9 221.7 L266.7 222.4 L267.4 223.1 L268.1 223.8 L268.8 224.4 L269.6 225.1 L270.3 225.8 L271.0 226.5 L271.8 227.2 L272.5 227.9 L273.3 228.5 L274.0 229.2 L274.8 229.9 L275.5 230.5 L276.3 231.2 L277.0 231.8 L277.8 232.5 L278.6 233.1 L279.3 233.8 L280.1 234.4 L280.9 235.0 L281.7 235.7 L282.5 236.3 L283.2 236.9 L284.0 237.5 L284.8 238.1 L285.6 238.8 L286.4 239.4 L287.2 240.0 L288.0 240.6 L288.8 241.2 L289.6 241.7 L290.4 242.3 L291.3 242.9 L292.1 243.5 L292.9 244.1 L293.7 244.6 L294.5 245.2 L295.4 245.8 L296.2 246.3 L297.0 246.9 L297.9 247.5 L298.7 248.0 L299.5 248.6 L300.4 249.1 L301.2 249.7 L302.1 250.2 L302.9 250.7 L303.8 251.3 L304.6 251.8 L305.5 252.3 L306.3 252.8 L307.2 253.4 L308.1 253.9 L308.9 254.4 L309.8 254.9 L310.6 255.4 L311.5 255.9 L312.4 256.4 L313.2 256.9 L314.1 257.4 L315.0 257.9 L315.9 258.4 L316.7 258.9 L317.6 259.3 L318.5 259.8 L319.4 260.3 L320.3 260.8 L321.2 261.2 L322.0 261.7 L322.9 262.2 L323.8 262.6 L324.7 263.1 L325.6 263.5 L326.5 264.0 L327.4 264.4 L328.3 264.9 L329.2 265.3 L330.1 265.8 L331.0 266.2 L331.9 266.7 L332.8 267.1 L333.7 267.5 L334.6 267.9 L335.5 268.4 L336.4 268.8 L337.3 269.2 L338.2 269.6 L339.1 270.0 L340.0 270.5 L340.9 270.9 L341.8 271.3 L342.8 271.7 L343.7 272.1 L344.6 272.5 L345.5 272.9 L346.4 273.3 L347.3 273.7 L348.3 274.1 L349.2 274.4 L350.1 274.8 L351.0 275.2 L351.9 275.6 L352.9 276.0 L353.8 276.3 L354.7 276.7 L355.6 277.1 L356.6 277.4 L357.5 277.8 L358.4 278.2 L359.4 278.5 L360.3 278.9 L361.2 279.2 L362.2 279.6 L363.1 279.9 L364.0 280.3 L365.0 280.6 L365.9 281.0 L366.8 281.3 L367.8 281.7 L368.7 282.0 L369.7 282.3 L370.6 282.7 L371.5 283.0 L372.5 283.3 L373.4 283.6 L374.4 284.0 L375.3 284.3 L376.3 284.6 L377.2 284.9 L378.2 285.2 L379.1 285.5 L380.1 285.8 L381.0 286.1 L382.0 286.5 L382.9 286.8 L383.9 287.1 L384.8 287.4 L385.8 287.6 L386.7 287.9 L387.7 288.2 L388.6 288.5 L389.6 288.8 L390.6 289.1 L391.5 289.4 L392.5 289.7 L393.4 289.9 L394.4 290.2 L395.4 290.5 L396.3 290.8 L397.3 291.0 L398.2 291.3 L399.2 291.6 L400.2 291.8 L401.1 292.1 L402.1 292.3 L403.1 292.6 L404.0 292.9 L405.0 293.1 L406.0 293.4 L406.9 293.6 L407.9 293.9 L408.9 294.1 L409.9 294.4 L410.8 294.6 L411.8 294.8 L412.8 295.1 L413.8 295.3 L414.7 295.5 L415.7 295.8 L416.7 296.0 L417.7 296.2 L418.6 296.5 L419.6 296.7 L420.6 296.9 L421.6 297.1 L422.5 297.4 L423.5 297.6 L424.5 297.8 L425.5 298.0 L426.5 298.2 L427.4 298.4 L428.4 298.6 L429.4 298.8 L430.4 299.1 L431.4 299.3 L432.4 299.5 L433.3 299.7 L434.3 299.9 L435.3 300.1 L436.3 300.3 L437.3 300.4 L438.3 300.6 L439.3 300.8 L440.2 301.0 L441.2 301.2 L442.2 301.4 L443.2 301.6 L444.2 301.8 L445.2 301.9 L446.2 302.1 L447.2 302.3 L448.2 302.5 L449.2 302.7 L450.1 302.8 L451.1 303.0 L452.1 303.2 L453.1 303.3 L454.1 303.5 L455.1 303.7 L456.1 303.8 L457.1 304.0 L458.1 304.2 L459.1 304.3 L460.1 304.5 L461.1 304.6 L462.1 304.8 L463.1 305.0 L464.0 305.1 L465.0 305.3 L466.0 305.4 L467.0 305.6 L468.0 305.7 L469.0 305.9 L470.0 306.0 L471.0 306.1 L472.0 306.3 L473.0 306.4 L474.0 306.6 L475.0 306.7 L476.0 306.8 L477.0 307.0 L478.0 307.1 L479.0 307.2 L480.0 307.4 L481.0 307.5 L482.0 307.6 L483.0 307.8 L484.0 307.9 L485.0 308.0 L486.0 308.1 L487.0 308.3 L488.0 308.4 L489.0 308.5 L490.0 308.6 L491.0 308.8 L492.0 308.9 L493.0 309.0 L494.0 309.1 L495.0 309.2 L496.0 309.3 L497.0 309.4 L498.0 309.6 L499.0 309.7 L500.0 309.8 L501.0 309.9 L502.0 310.0 L503.0 310.1 L504.0 310.2 L505.0 310.3 L506.0 310.4 L507.0 310.5 L508.0 310.6 L509.0 310.7 L510.0 310.8 L511.0 310.9 L512.0 311.0 L513.0 311.1 L514.0 311.2 L515.0 311.3 L516.0 311.4 L517.0 311.5 L518.0 311.6 L519.0 311.7 L520.0 311.8 L521.0 311.8 L522.0 311.9 L523.0 312.0 L524.0 312.1 L525.0 312.2 L526.0 312.3 L527.0 312.4 L528.0 312.4 L529.0 312.5 L530.0 312.6 L531.0 312.7 L532.0 312.8 L533.0 312.9 L534.0 312.9 L535.0 313.0 L536.0 313.1 L537.0 313.2 L538.0 313.2 L539.0 313.3 L540.0 313.4 L541.0 313.5 L542.0 313.5 L543.0 313.6 L544.0 313.7 L545.0 313.7 L546.0 313.8 L547.0 313.9 L548.0 314.0 L549.0 314.0 L550.0 314.1 L551.0 314.2 L552.0 314.2 L553.0 314.3 L554.0 314.3 L555.0 314.4 L556.0 314.5 L557.0 314.5 L558.0 314.6 L559.0 314.7 L560.0 314.7 L561.0 314.8 L562.0 314.8 L563.0 314.9 L564.0 315.0 L565.0 315.0 L566.0 315.1 L567.0 315.1 L568.0 315.2 L569.0 315.2 L570.0 315.3 L571.0 315.3 L572.0 315.4 L573.0 315.5 L574.0 315.5 L575.0 315.6 L576.0 315.6 L577.0 315.7 L578.0 315.7 L579.0 315.8 L580.0 315.8 L581.0 315.9 L582.0 315.9 L583.0 316.0 L584.0 316.0 L585.0 316.0 L586.0 316.1 L587.0 316.1 L588.0 316.2 L589.0 316.2 L589.9 316.3 L590.9 316.3 L591.9 316.4 L592.9 316.4 L593.9 316.5 L594.9 316.5 L595.9 316.5 L596.9 316.6 L597.9 316.6 L598.9 316.7 L599.9 316.7 L600.9 316.7 L601.9 316.8 L602.9 316.8 L603.9 316.9 L604.9 316.9 L605.9 316.9 L606.9 317.0 L607.9 317.0 L608.9 317.1 L609.9 317.1 L610.9 317.1 L611.9 317.2 L612.9 317.2 L613.9 317.2 L614.9 317.3 L615.9 317.3 L616.9 317.4 L617.9 317.4 L618.9 317.4 L619.9 317.5 L620.9 317.5 L621.9 317.5 L622.9 317.6 L623.9 317.6 L624.9 317.6 L625.9 317.7 L626.9 317.7 L627.9 317.7 L628.9 317.8 L629.9 317.8 L630.9 317.8 L631.9 317.9 L632.9 317.9 L633.9 317.9 L634.9 318.0 L635.9 318.0 L636.9 318.0 L637.9 318.1 L638.9 318.1 L639.9 318.1 L640.9 318.2 L641.9 318.2 L642.9 318.2 L643.9 318.3 L644.9 318.3 L645.9 318.3 L646.9 318.4 L647.9 318.4 L648.9 318.4 L649.9 318.5 L650.9 318.5 L651.9 318.5 L652.9 318.6 L653.9 318.6 L654.9 318.6 L655.9 318.7 L656.9 318.7 L657.9 318.7 L658.9 318.8 L659.9 318.8 L660.9 318.8 L661.9 318.9 L662.9 318.9 L663.9 318.9 L664.9 319.0 L665.9 319.0 L666.9 319.0 L667.9 319.1 L668.9 319.1 L669.9 319.1 L670.9 319.2 L671.9 319.2 L672.9 319.2 L673.9 319.3 L674.9 319.3 L675.9 319.3 L676.9 319.4 L677.9 319.4 L678.9 319.4 L679.9 319.5 L680.9 319.5 L681.9 319.6 L682.9 319.6 L683.9 319.6 L684.9 319.7 L685.9 319.7 L686.9 319.7 L687.9 319.8 L688.9 319.8 L689.9 319.8 L690.9 319.9 L691.9 319.9 L692.9 320.0 L693.9 320.0 L694.9 320.0 L695.9 320.1 L696.9 320.1 L697.9 320.2 L698.9 320.2 L699.9 320.2 L700.9 320.3 L701.9 320.3 L702.9 320.4 L703.9 320.4 L704.9 320.5 L705.9 320.5 L706.9 320.5 L707.9 320.6 L708.9 320.6 L709.9 320.7 L710.9 320.7 L711.9 320.8 L712.9 320.8 L713.9 320.9 L714.9 320.9 L715.9 320.9 L716.9 321.0 L717.9 321.0 L718.9 321.1 L719.9 321.1 L720.9 321.2 L721.9 321.2 L722.9 321.3 L723.9 321.3 L724.9 321.4 L725.9 321.4 L726.9 321.5 L727.9 321.5 L728.9 321.6 L729.9 321.7 L730.9 321.7 L731.9 321.8 L732.9 321.8 L733.9 321.9 L734.9 321.9 L735.9 322.0 L736.9 322.0 L737.9 322.1 L738.9 322.2 L739.9 322.2 L740.9 322.3 L741.9 322.3 L742.9 322.4 L743.9 322.5 L744.9 322.5 L745.9 322.6 L746.9 322.7 L747.9 322.7 L748.9 322.8 L749.9 322.9 L750.9 322.9 L751.9 323.0 L753.0 323.1 L754.0 323.1 L755.0 323.2 L756.0 323.3 L757.0 323.3 L758.0 323.4 L759.0 323.5 L760.0 323.6 L761.0 323.6 L762.0 323.7 L763.0 323.8 L764.0 323.9 L765.0 323.9 L766.0 324.0 L767.0 324.1 L768.0 324.2 L769.0 324.2 L770.0 324.3 L771.0 324.4 L772.0 324.5 L773.0 324.6 L774.0 324.7 L775.0 324.7 L776.0 324.8 L777.0 324.9 L778.0 325.0 L779.0 325.1 L780.0 325.2 L781.0 325.3 L782.1 325.4 L783.1 325.5 L784.1 325.5 L785.1 325.6 L786.1 325.7 L787.1 325.8 L788.1 325.9 L789.1 326.0 L790.1 326.1" fill="none" stroke="#8B4513" stroke-width="4.0" stroke-linejoin="round" stroke-dasharray="14.00 7.10" stroke-dashoffset="10.13"/>
<path d="M163.4 42.1 L163.5 43.1 L163.6 44.1 L163.7 45.1 L163.9 46.0 L164.0 47.0 L164.1 48.0 L164.2 49.0 L164.4 50.0 L164.5 51.0 L164.7 51.9 L164.8 52.9 L164.9 53.9 L165.1 54.9 L165.2 55.9 L165.4 56.8 L165.5 57.8 L165.7 58.8 L165.8 59.8 L166.0 60.8 L166.2 61.7 L166.3 62.7 L166.5 63.7 L166.7 64.7 L166.8 65.7 L167.0 66.6 L167.2 67.6 L167.4 68.6 L167.5 69.6 L167.7 70.6 L167.9 71.5 L168.1 72.5 L168.3 73.5 L168.5 74.5 L168.7 75.5 L168.9 76.4 L169.1 77.4 L169.3 78.4 L169.5 79.4 L169.7 80.3 L169.9 81.3 L170.1 82.3 L170.3 83.3 L170.5 84.2 L170.7 85.2 L170.9 86.2 L171.1 87.2 L171.4 88.1 L171.6 89.1 L171.8 90.1 L172.0 91.0 L172.3 92.0 L172.5 93.0 L172.7 94.0 L173.0 94.9 L173.2 95.9 L173.5 96.9 L173.7 97.8 L174.0 98.8 L174.2 99.8 L174.5 100.7 L174.7 101.7 L175.0 102.7 L175.2 103.6 L175.5 104.6 L175.7 105.6 L176.0 106.5 L176.3 107.5 L176.5 108.5 L176.8 109.4 L177.1 110.4 L177.3 111.3 L177.6 112.3 L177.9 113.3 L178.2 114.2 L178.5 115.2 L178.8 116.1 L179.0 117.1 L179.3 118.1 L179.6 119.0 L179.9 120.0 L180.2 120.9 L180.5 121.9 L180.8 122.8 L181.1 123.8 L181.4 124.8 L181.7 125.7 L182.0 126.7 L182.3 127.6 L182.6 128.6 L183.0 129.5 L183.3 130.5 L183.6 131.4 L183.9 132.4 L184.2 133.3 L184.6 134.3 L184.9 135.2 L185.2 136.2 L185.6 137.1 L185.9 138.1 L186.2 139.0 L186.6 139.9 L186.9 140.9 L187.2 141.8 L187.6 142.8 L187.9 143.7 L188.3 144.7 L188.6 145.6 L189.0 146.5 L189.3 147.5 L189.7 148.4 L190.1 149.4 L190.4 150.3 L190.8 151.2 L191.1 152.2 L191.5 153.1 L191.9 154.0 L192.3 155.0 L192.6 155.9 L193.0 156.8 L193.4 157.8 L193.8 158.7 L194.1 159.6 L194.5 160.5 L194.9 161.5 L195.3 162.4 L195.7 163.3 L196.1 164.3 L196.5 165.2 L196.9 166.1 L197.3 167.0 L197.7 167.9 L198.1 168.9 L198.5 169.8 L198.9 170.7 L199.3 171.6 L199.7 172.5 L200.1 173.5 L200.5 174.4 L200.9 175.3 L201.4 176.2 L201.8 177.1 L202.2 178.0 L202.6 178.9 L203.1 179.9 L203.5 180.8 L203.9 181.7 L204.3 182.6 L204.8 183.5 L205.2 184.4 L205.6 185.3 L206.1 186.2 L206.5 187.1 L207.0 188.0 L207.4 188.9 L207.9 189.8 L208.3 190.7 L208.8 191.6 L209.2 192.5 L209.7 193.4 L210.1 194.3 L210.6 195.2 L211.1 196.1 L211.5 197.0 L212.0 197.9 L212.5 198.8 L212.9 199.6 L213.4 200.5 L213.9 201.4 L214.3 202.3 L214.8 203.2 L215.3 204.1 L215.8 205.0 L216.3 205.8 L216.8 206.7 L217.2 207.6 L217.7 208.5 L218.2 209.4 L218.7 210.2 L219.2 211.1 L219.7 212.0 L220.2 212.8 L220.7 213.7 L221.2 214.6 L221.7 215.5 L222.2 216.3 L222.7 217.2 L223.2 218.1 L223.7 218.9 L224.3 219.8 L224.8 220.7 L225.3 221.5 L225.8 222.4 L226.3 223.2 L226.9 224.1 L227.4 224.9 L227.9 225.8 L228.4 226.7 L229.0 227.5 L229.5 228.4 L230.0 229.2 L230.6 230.1 L231.1 230.9 L231.7 231.8 L232.2 232.6 L232.7 233.4 L233.3 234.3 L233.8 235.1 L234.4 236.0 L234.9 236.8 L235.5 237.6 L236.0 238.5 L236.6 239.3 L237.2 240.2 L237.7 241.0 L238.3 241.8 L238.9 242.7 L239.4 243.5 L240.0 244.3 L240.6 245.1 L241.1 246.0 L241.7 246.8 L242.3 247.6 L242.9 248.4 L243.4 249.2 L244.0 250.1 L244.6 250.9 L245.2 251.7 L245.8 252.5 L246.4 253.3 L246.9 254.1 L247.5 254.9 L248.1 255.7 L248.7 256.6 L249.3 257.4 L249.9 258.2 L250.5 259.0 L251.1 259.8 L251.7 260.6 L252.3 261.4 L252.9 262.2 L253.6 263.0 L254.2 263.8 L254.8 264.5 L255.4 265.3 L256.0 266.1 L256.6 266.9 L257.3 267.7 L257.9 268.5 L258.5 269.3 L259.1 270.1 L259.8 270.8 L260.4 271.6 L261.0 272.4 L261.7 273.2 L262.3 273.9 L262.9 274.7 L263.6 275.5 L264.2 276.3 L264.8 277.0 L265.5 277.8 L266.1 278.6 L266.8 279.3 L267.4 280.1 L268.1 280.8 L268.7 281.6 L269.4 282.4 L270.0 283.1 L270.7 283.9 L271.4 284.6 L272.0 285.4 L272.7 286.1 L273.3 286.9 L274.0 287.6 L274.7 288.4 L275.3 289.1 L276.0 289.8 L276.7 290.6 L277.4 291.3 L278.0 292.1 L278.7 292.8 L279.4 293.5 L280.1 294.3 L280.8 295.0 L281.5 295.7 L282.1 296.4 L282.8 297.2 L283.5 297.9 L284.2 298.6 L284.9 299.3 L285.6 300.0 L286.3 300.8 L287.0 301.5 L287.7 302.2 L288.4 302.9 L289.1 303.6 L289.8 304.3 L290.5 305.0 L291.2 305.7 L291.9 306.4 L292.6 307.1 L293.4 307.8 L294.1 308.5 L294.8 309.2 L295.5 309.9 L296.2 310.6 L297.0 311.3 L297.7 312.0 L298.4 312.7 L299.1 313.3 L299.9 314.0 L300.6 314.7 L301.3 315.4 L302.0 316.0 L302.8 316.7 L303.5 317.4 L304.3 318.1 L305.0 318.7 L305.7 319.4 L306.5 320.1 L307.2 320.7 L308.0 321.4 L308.7 322.0 L309.5 322.7 L310.2 323.4 L311.0 324.0 L311.7 324.7 L312.5 325.3 L313.2 326.0 L314.0 326.6 L314.8 327.3 L315.5 327.9 L316.3 328.5 L317.1 329.2 L317.8 329.8 L318.6 330.4 L319.4 331.1 L320.1 331.7 L320.9 332.3 L321.7 333.0 L322.5 333.6 L323.2 334.2 L324.0 334.8 L324.8 335.4 L325.6 336.1 L326.4 336.7 L327.2 337.3 L327.9 337.9 L328.7 338.5 L329.5 339.1 L330.3 339.7 L331.1 340.3 L331.9 340.9 L332.7 341.5 L333.5 342.1 L334.3 342.7 L335.1 343.3 L335.9 343.9 L336.7 344.5 L337.5 345.0 L338.3 345.6 L339.1 346.2 L339.9 346.8 L340.8 347.4 L341.6 347.9 L342.4 348.5 L343.2 349.1 L344.0 349.6 L344.8 350.2 L345.7 350.8 L346.5 351.3 L347.3 351.9 L348.1 352.5 L349.0 353.0 L349.8 353.6 L350.6 354.1 L351.4 354.7 L352.3 355.2 L353.1 355.8 L353.9 356.3 L354.8 356.8 L355.6 357.4 L356.5 357.9 L357.3 358.5 L358.1 359.0 L359.0 359.5 L359.8 360.0 L360.7 360.6 L361.5 361.1 L362.4 361.6 L363.2 362.1 L364.1 362.7 L364.9 363.2 L365.8 363.7 L366.6 364.2 L367.5 364.7 L368.4 365.2 L369.2 365.7 L370.1 366.2 L370.9 366.7 L371.8 367.2 L372.7 367.7 L373.5 368.2 L374.4 368.7 L375.3 369.2 L376.1 369.7 L377.0 370.2 L377.9 370.7 L378.7 371.2 L379.6 371.7 L380.5 372.2 L381.4 372.6 L382.2 373.1 L383.1 373.6 L384.0 374.1 L384.9 374.5 L385.8 375.0 L386.6 375.5 L387.5 375.9 L388.4 376.4 L389.3 376.9 L390.2 377.3 L391.1 377.8 L392.0 378.2 L392.8 378.7 L393.7 379.1 L394.6 379.6 L395.5 380.0 L396.4 380.5 L397.3 380.9 L398.2 381.4 L399.1 381.8 L400.0 382.3 L400.9 382.7 L401.8 383.1 L402.7 383.6 L403.6 384.0 L404.5 384.4 L405.4 384.9 L406.3 385.3 L407.2 385.7 L408.1 386.1 L409.1 386.5 L410.0 387.0 L410.9 387.4 L411.8 387.8 L412.7 388.2 L413.6 388.6 L414.5 389.0 L415.4 389.4 L416.4 389.8 L417.3 390.2 L418.2 390.6 L419.1 391.0 L420.0 391.4 L421.0 391.8 L421.9 392.2 L422.8 392.6 L423.7 393.0 L424.6 393.4 L425.6 393.8 L426.5 394.2 L427.4 394.5 L428.3 394.9 L429.3 395.3 L430.2 395.7 L431.1 396.1 L432.1 396.4 L433.0 396.8 L433.9 397.2 L434.9 397.5 L435.8 397.9 L436.7 398.3 L437.7 398.6 L438.6 399.0 L439.5 399.4 L440.5 399.7 L441.4 400.1 L442.4 400.4 L443.3 400.8 L444.2 401.1 L445.2 401.5 L446.1 401.8 L447.1 402.2 L448.0 402.5 L448.9 402.8 L449.9 403.2 L450.8 403.5 L451.8 403.9 L452.7 404.2 L453.7 404.5 L454.6 404.8 L455.6 405.2 L456.5 405.5 L457.5 405.8 L458.4 406.2 L459.4 406.5 L460.3 406.8 L461.3 407.1 L462.2 407.4 L463.2 407.7 L464.1 408.1 L465.1 408.4 L466.0 408.7 L467.0 409.0 L467.9 409.3 L468.9 409.6 L469.9 409.9 L470.8 410.2 L471.8 410.5 L472.7 410.8 L473.7 411.1 L474.7 411.4 L475.6 411.7 L476.6 411.9 L477.5 412.2 L478.5 412.5 L479.5 412.8 L480.4 413.1 L481.4 413.4 L482.3 413.6 L483.3 413.9 L484.3 414.2 L485.2 414.5 L486.2 414.7 L487.2 415.0 L488.1 415.3 L489.1 415.6 L490.1 415.8 L491.0 416.1 L492.0 416.3 L493.0 416.6 L493.9 416.9 L494.9 417.1 L495.9 417.4 L496.8 417.6 L497.8 417.9 L498.8 418.1 L499.8 418.4 L500.7 418.6 L501.7 418.9 L502.7 419.1 L503.6 419.4 L504.6 419.6 L505.6 419.8 L506.6 420.1 L507.5 420.3 L508.5 420.5 L509.5 420.8 L510.5 421.0 L511.4 421.2 L512.4 421.5 L513.4 421.7 L514.4 421.9 L515.3 422.1 L516.3 422.4 L517.3 422.6 L518.3 422.8 L519.2 423.0 L520.2 423.2 L521.2 423.5 L522.2 423.7 L523.2 423.9 L524.1 424.1 L525.1 424.3 L526.1 424.5 L527.1 424.7 L528.1 424.9 L529.0 425.1 L530.0 425.3 L531.0 425.5 L532.0 425.7 L533.0 425.9 L534.0 426.1 L534.9 426.3 L535.9 426.5 L536.9 426.7 L537.9 426.9 L538.9 427.1 L539.9 427.3 L540.8 427.5 L541.8 427.6 L542.8 427.8 L543.8 428.0 L544.8 428.2 L545.8 428.4 L546.7 428.6 L547.7 428.7 L548.7 428.9 L549.7 429.1 L550.7 429.3 L551.7 429.4 L552.7 429.6 L553.7 429.8 L554.6 429.9 L555.6 430.1 L556.6 430.3 L557.6 430.4 L558.6 430.6 L559.6 430.8 L560.6 430.9 L561.6 431.1 L562.6 431.3 L563.6 431.4 L564.5 431.6 L565.5 431.7 L566.5 431.9 L567.5 432.0 L568.5 432.2 L569.5 432.3 L570.5 432.5 L571.5 432.6 L572.5 432.8 L573.5 432.9 L574.5 433.1 L575.5 433.2 L576.4 433.4 L577.4 433.5 L578.4 433.6 L579.4 433.8 L580.4 433.9 L581.4 434.1 L582.4 434.2 L583.4 434.3 L584.4 434.5 L585.4 434.6 L586.4 434.7 L587.4 434.9 L588.4 435.0 L589.4 435.1 L590.4 435.3 L591.4 435.4 L592.4 435.5 L593.4 435.6 L594.4 435.8 L595.4 435.9 L596.4 436.0 L597.3 436.1 L598.3 436.3 L599.3 436.4 L600.3 436.5 L601.3 436.6 L602.3 436.7 L603.3 436.9 L604.3 437.0 L605.3 437.1 L606.3 437.2 L607.3 437.3 L608.3 437.4 L609.3 437.5 L610.3 437.7 L611.3 437.8 L612.3 437.9 L613.3 438.0 L614.3 438.1 L615.3 438.2 L616.3 438.3 L617.3 438.4 L618.3 438.5 L619.3 438.6 L620.3 438.7 L621.3 438.8 L622.3 438.9 L623.3 439.0 L624.3 439.1 L625.3 439.2 L626.3 439.3 L627.3 439.4 L628.3 439.5 L629.3 439.6 L630.3 439.7 L631.3 439.8 L632.3 439.9 L633.3 440.0 L634.3 440.1 L635.3 440.2 L636.3 440.3 L637.3 440.4 L638.3 440.4 L639.3 440.5 L640.3 440.6 L641.3 440.7 L642.3 440.8 L643.3 440.9 L644.3 441.0 L645.3 441.1 L646.3 441.1 L647.3 441.2 L648.3 441.3 L649.3 441.4 L650.3 441.5 L651.3 441.6 L652.3 441.6 L653.3 441.7 L654.3 441.8 L655.3 441.9 L656.3 442.0 L657.3 442.0 L658.3 442.1 L659.4 442.2 L660.4 442.3 L661.4 442.3 L662.4 442.4 L663.4 442.5 L664.4 442.6 L665.4 442.6 L666.4 442.7 L667.4 442.8 L668.4 442.9 L669.4 442.9 L670.4 443.0 L671.4 443.1 L672.4 443.2 L673.4 443.2 L674.4 443.3 L675.4 443.4 L676.4 443.4 L677.4 443.5 L678.4 443.6 L679.4 443.6 L680.4 443.7 L681.4 443.8 L682.4 443.8 L683.4 443.9 L684.4 444.0 L685.4 444.1 L686.4 444.1 L687.4 444.2 L688.4 444.2 L689.4 444.3 L690.4 444.4 L691.4 444.4 L692.4 444.5 L693.4 444.6 L694.4 444.6 L695.4 444.7 L696.4 444.8 L697.4 444.8 L698.4 444.9 L699.4 445.0 L700.4 445.0 L701.4 445.1 L702.4 445.1 L703.4 445.2 L704.4 445.3 L705.4 445.3 L706.4 445.4 L707.4 445.4 L708.4 445.5 L709.4 445.6 L710.4 445.6 L711.4 445.7 L712.4 445.8 L713.4 445.8 L714.4 445.9 L715.4 445.9 L716.4 446.0 L717.4 446.1 L718.4 446.1 L719.4 446.2 L720.4 446.2 L721.4 446.3 L722.4 446.3 L723.4 446.4 L724.4 446.5 L725.4 446.5 L726.3 446.6 L727.3 446.6 L728.3 446.7 L729.3 446.8 L730.3 446.8 L731.3 446.9 L732.3 446.9 L733.3 447.0 L734.3 447.1 L735.3 447.1 L736.3 447.2 L737.3 447.2 L738.3 447.3 L739.3 447.4 L740.3 447.4 L741.3 447.5 L742.3 447.5 L743.3 447.6 L744.3 447.6 L745.3 447.7 L746.2 447.8 L747.2 447.8 L748.2 447.9 L749.2 447.9 L750.2 448.0 L751.2 448.1 L752.2 448.1 L753.2 448.2 L754.2 448.2 L755.2 448.3 L756.2 448.4 L757.2 448.4 L758.1 448.5 L759.1 448.5 L760.1 448.6 L761.1 448.7 L762.1 448.7 L763.1 448.8 L764.1 448.9 L765.1 448.9 L766.1 449.0 L767.1 449.0 L768.0 449.1 L769.0 449.2 L770.0 449.2 L771.0 449.3 L772.0 449.4 L773.0 449.4 L774.0 449.5 L774.9 449.6 L775.9 449.6 L776.9 449.7 L777.9 449.8 L778.9 449.8 L779.9 449.9 L780.9 450.0 L781.8 450.0 L782.8 450.1 L783.8 450.2 L784.8 450.2 L785.8 450.3 L786.8 450.4 L787.7 450.4 L788.7 450.5 L789.7 450.6" fill="none" stroke="#9932CC" stroke-width="4.0" stroke-linejoin="round" stroke-dasharray="6.40 6.75" stroke-dashoffset="5.07"/>
<path d="M146.1 90.3 L146.3 91.3 L146.5 92.2 L146.7 93.2 L146.9 94.2 L147.1 95.1 L147.3 96.1 L147.5 97.0 L147.7 98.0 L148.0 99.0 L148.2 99.9 L148.4 100.9 L148.6 101.9 L148.9 102.8 L149.1 103.8 L149.3 104.7 L149.6 105.7 L149.8 106.7 L150.0 107.6 L150.3 108.6 L150.5 109.6 L150.8 110.5 L151.0 111.5 L151.3 112.4 L151.6 113.4 L151.8 114.3 L152.1 115.3 L152.4 116.3 L152.6 117.2 L152.9 118.2 L153.2 119.1 L153.4 120.1 L153.7 121.0 L154.0 122.0 L154.3 122.9 L154.6 123.9 L154.9 124.9 L155.2 125.8 L155.5 126.8 L155.8 127.7 L156.1 128.7 L156.4 129.6 L156.7 130.6 L157.0 131.5 L157.3 132.5 L157.6 133.4 L157.9 134.4 L158.2 135.3 L158.6 136.2 L158.9 137.2 L159.2 138.1 L159.5 139.1 L159.9 140.0 L160.2 141.0 L160.6 141.9 L160.9 142.9 L161.2 143.8 L161.6 144.7 L161.9 145.7 L162.3 146.6 L162.6 147.5 L163.0 148.5 L163.3 149.4 L163.7 150.4 L164.1 151.3 L164.4 152.2 L164.8 153.2 L165.2 154.1 L165.5 155.0 L165.9 156.0 L166.3 156.9 L166.7 157.8 L167.0 158.7 L167.4 159.7 L167.8 160.6 L168.2 161.5 L168.6 162.5 L169.0 163.4 L169.4 164.3 L169.8 165.2 L170.2 166.2 L170.6 167.1 L171.0 168.0 L171.4 168.9 L171.8 169.8 L172.2 170.8 L172.6 171.7 L173.0 172.6 L173.5 173.5 L173.9 174.4 L174.3 175.3 L174.7 176.2 L175.2 177.2 L175.6 178.1 L176.0 179.0 L176.5 179.9 L176.9 180.8 L177.3 181.7 L177.8 182.6 L178.2 183.5 L178.7 184.4 L179.1 185.3 L179.6 186.2 L180.0 187.1 L180.5 188.0 L180.9 188.9 L181.4 189.8 L181.9 190.7 L182.3 191.6 L182.8 192.5 L183.3 193.4 L183.7 194.3 L184.2 195.2 L184.7 196.1 L185.2 196.9 L185.7 197.8 L186.1 198.7 L186.6 199.6 L187.1 200.5 L187.6 201.4 L188.1 202.2 L188.6 203.1 L189.1 204.0 L189.6 204.9 L190.1 205.7 L190.6 206.6 L191.1 207.5 L191.6 208.4 L192.1 209.2 L192.6 210.1 L193.1 211.0 L193.7 211.8 L194.2 212.7 L194.7 213.6 L195.2 214.4 L195.7 215.3 L196.3 216.1 L196.8 217.0 L197.3 217.8 L197.9 218.7 L198.4 219.5 L199.0 220.4 L199.5 221.2 L200.0 222.1 L200.6 222.9 L201.1 223.8 L201.7 224.6 L202.2 225.5 L202.8 226.3 L203.4 227.1 L203.9 228.0 L204.5 228.8 L205.0 229.6 L205.6 230.5 L206.2 231.3 L206.8 232.1 L207.3 232.9 L207.9 233.8 L208.5 234.6 L209.1 235.4 L209.7 236.2 L210.2 237.0 L210.8 237.9 L211.4 238.7 L212.0 239.5 L212.6 240.3 L213.2 241.1 L213.8 241.9 L214.4 242.7 L215.0 243.5 L215.6 244.3 L216.2 245.1 L216.8 245.9 L217.4 246.7 L218.1 247.5 L218.7 248.3 L219.3 249.1 L219.9 249.8 L220.5 250.6 L221.2 251.4 L221.8 252.2 L222.4 253.0 L223.1 253.7 L223.7 254.5 L224.3 255.3 L225.0 256.1 L225.6 256.8 L226.3 257.6 L226.9 258.3 L227.6 259.1 L228.2 259.9 L228.9 260.6 L229.5 261.4 L230.2 262.1 L230.8 262.9 L231.5 263.6 L232.2 264.4 L232.8 265.1 L233.5 265.9 L234.2 266.6 L234.9 267.3 L235.5 268.1 L236.2 268.8 L236.9 269.5 L237.6 270.3 L238.2 271.0 L238.9 271.7 L239.6 272.4 L240.3 273.2 L241.0 273.9 L241.7 274.6 L242.4 275.3 L243.1 276.0 L243.8 276.7 L244.5 277.4 L245.2 278.2 L245.9 278.9 L246.6 279.6 L247.3 280.3 L248.0 281.0 L248.7 281.7 L249.5 282.4 L250.2 283.0 L250.9 283.7 L251.6 284.4 L252.3 285.1 L253.1 285.8 L253.8 286.5 L254.5 287.2 L255.3 287.8 L256.0 288.5 L256.7 289.2 L257.5 289.9 L258.2 290.5 L258.9 291.2 L259.7 291.9 L260.4 292.5 L261.2 293.2 L261.9 293.9 L262.7 294.5 L263.4 295.2 L264.2 295.8 L264.9 296.5 L265.7 297.1 L266.5 297.8 L267.2 298.4 L268.0 299.1 L268.7 299.7 L269.5 300.3 L270.3 301.0 L271.0 301.6 L271.8 302.2 L272.6 302.9 L273.4 303.5 L274.1 304.1 L274.9 304.8 L275.7 305.4 L276.5 306.0 L277.3 306.6 L278.0 307.2 L278.8 307.9 L279.6 308.5 L280.4 309.1 L281.2 309.7 L282.0 310.3 L282.8 310.9 L283.6 311.5 L284.4 312.1 L285.2 312.7 L286.0 313.3 L286.8 313.9 L287.6 314.5 L288.4 315.1 L289.2 315.7 L290.0 316.3 L290.8 316.8 L291.6 317.4 L292.5 318.0 L293.3 318.6 L294.1 319.2 L294.9 319.7 L295.7 320.3 L296.5 320.9 L297.4 321.4 L298.2 322.0 L299.0 322.6 L299.8 323.1 L300.7 323.7 L301.5 324.2 L302.3 324.8 L303.2 325.4 L304.0 325.9 L304.8 326.5 L305.7 327.0 L306.5 327.5 L307.3 328.1 L308.2 328.6 L309.0 329.2 L309.9 329.7 L310.7 330.2 L311.6 330.8 L312.4 331.3 L313.3 331.8 L314.1 332.4 L315.0 332.9 L315.8 333.4 L316.7 333.9 L317.5 334.5 L318.4 335.0 L319.2 335.5 L320.1 336.0 L321.0 336.5 L321.8 337.0 L322.7 337.5 L323.5 338.0 L324.4 338.5 L325.3 339.0 L326.2 339.5 L327.0 340.0 L327.9 340.5 L328.8 341.0 L329.6 341.5 L330.5 342.0 L331.4 342.5 L332.3 343.0 L333.1 343.4 L334.0 343.9 L334.9 344.4 L335.8 344.9 L336.7 345.3 L337.5 345.8 L338.4 346.3 L339.3 346.8 L340.2 347.2 L341.1 347.7 L342.0 348.1 L342.9 348.6 L343.8 349.1 L344.6 349.5 L345.5 350.0 L346.4 350.4 L347.3 350.9 L348.2 351.3 L349.1 351.8 L350.0 352.2 L350.9 352.6 L351.8 353.1 L352.7 353.5 L353.6 354.0 L354.5 354.4 L355.4 354.8 L356.3 355.3 L357.2 355.7 L358.1 356.1 L359.1 356.5 L360.0 356.9 L360.9 357.4 L361.8 357.8 L362.7 358.2 L363.6 358.6 L364.5 359.0 L365.4 359.4 L366.3 359.8 L367.3 360.2 L368.2 360.6 L369.1 361.0 L370.0 361.4 L370.9 361.8 L371.9 362.2 L372.8 362.6 L373.7 363.0 L374.6 363.4 L375.5 363.8 L376.5 364.2 L377.4 364.6 L378.3 364.9 L379.2 365.3 L380.2 365.7 L381.1 366.1 L382.0 366.4 L383.0 366.8 L383.9 367.2 L384.8 367.5 L385.7 367.9 L386.7 368.3 L387.6 368.6 L388.5 369.0 L389.5 369.3 L390.4 369.7 L391.3 370.0 L392.3 370.4 L393.2 370.7 L394.2 371.1 L395.1 371.4 L396.0 371.8 L397.0 372.1 L397.9 372.5 L398.9 372.8 L399.8 373.1 L400.7 373.5 L401.7 373.8 L402.6 374.1 L403.6 374.5 L404.5 374.8 L405.5 375.1 L406.4 375.5 L407.4 375.8 L408.3 376.1 L409.3 376.4 L410.2 376.7 L411.2 377.1 L412.1 377.4 L413.1 377.7 L414.0 378.0 L415.0 378.3 L415.9 378.6 L416.9 378.9 L417.8 379.2 L418.8 379.5 L419.7 379.8 L420.7 380.1 L421.6 380.4 L422.6 380.7 L423.6 381.0 L424.5 381.3 L425.5 381.6 L426.4 381.9 L427.4 382.2 L428.4 382.5 L429.3 382.8 L430.3 383.0 L431.2 383.3 L432.2 383.6 L433.2 383.9 L434.1 384.2 L435.1 384.4 L436.1 384.7 L437.0 385.0 L438.0 385.3 L438.9 385.5 L439.9 385.8 L440.9 386.1 L441.8 386.3 L442.8 386.6 L443.8 386.9 L444.7 387.1 L445.7 387.4 L446.7 387.7 L447.7 387.9 L448.6 388.2 L449.6 388.4 L450.6 388.7 L451.5 388.9 L452.5 389.2 L453.5 389.4 L454.5 389.7 L455.4 389.9 L456.4 390.2 L457.4 390.4 L458.3 390.7 L459.3 390.9 L460.3 391.2 L461.3 391.4 L462.2 391.6 L463.2 391.9 L464.2 392.1 L465.2 392.3 L466.2 392.6 L467.1 392.8 L468.1 393.0 L469.1 393.3 L470.1 393.5 L471.0 393.7 L472.0 394.0 L473.0 394.2 L474.0 394.4 L475.0 394.6 L475.9 394.9 L476.9 395.1 L477.9 395.3 L478.9 395.5 L479.9 395.7 L480.8 396.0 L481.8 396.2 L482.8 396.4 L483.8 396.6 L484.8 396.8 L485.7 397.0 L486.7 397.3 L487.7 397.5 L488.7 397.7 L489.7 397.9 L490.7 398.1 L491.6 398.3 L492.6 398.5 L493.6 398.7 L494.6 398.9 L495.6 399.1 L496.6 399.3 L497.5 399.5 L498.5 399.7 L499.5 399.9 L500.5 400.1 L501.5 400.3 L502.5 400.5 L503.5 400.7 L504.4 400.9 L505.4 401.1 L506.4 401.3 L507.4 401.5 L508.4 401.7 L509.4 401.9 L510.4 402.1 L511.3 402.2 L512.3 402.4 L513.3 402.6 L514.3 402.8 L515.3 403.0 L516.3 403.2 L517.3 403.4 L518.3 403.5 L519.2 403.7 L520.2 403.9 L521.2 404.1 L522.2 404.3 L523.2 404.5 L524.2 404.6 L525.2 404.8 L526.2 405.0 L527.1 405.2 L528.1 405.4 L529.1 405.5 L530.1 405.7 L531.1 405.9 L532.1 406.1 L533.1 406.2 L534.1 406.4 L535.0 406.6 L536.0 406.7 L537.0 406.9 L538.0 407.1 L539.0 407.3 L540.0 407.4 L541.0 407.6 L542.0 407.8 L543.0 407.9 L543.9 408.1 L544.9 408.3 L545.9 408.4 L546.9 408.6 L547.9 408.8 L548.9 408.9 L549.9 409.1 L550.9 409.2 L551.8 409.4 L552.8 409.6 L553.8 409.7 L554.8 409.9 L555.8 410.1 L556.8 410.2 L557.8 410.4 L558.8 410.5 L559.8 410.7 L560.7 410.8 L561.7 411.0 L562.7 411.1 L563.7 411.3 L564.7 411.5 L565.7 411.6 L566.7 411.8 L567.7 411.9 L568.7 412.1 L569.6 412.2 L570.6 412.4 L571.6 412.5 L572.6 412.7 L573.6 412.8 L574.6 413.0 L575.6 413.1 L576.6 413.2 L577.6 413.4 L578.6 413.5 L579.5 413.7 L580.5 413.8 L581.5 414.0 L582.5 414.1 L583.5 414.3 L584.5 414.4 L585.5 414.5 L586.5 414.7 L587.5 414.8 L588.5 414.9 L589.4 415.1 L590.4 415.2 L591.4 415.4 L592.4 415.5 L593.4 415.6 L594.4 415.8 L595.4 415.9 L596.4 416.0 L597.4 416.2 L598.4 416.3 L599.3 416.4 L600.3 416.6 L601.3 416.7 L602.3 416.8 L603.3 416.9 L604.3 417.1 L605.3 417.2 L606.3 417.3 L607.3 417.5 L608.3 417.6 L609.3 417.7 L610.2 417.8 L611.2 418.0 L612.2 418.1 L613.2 418.2 L614.2 418.3 L615.2 418.5 L616.2 418.6 L617.2 418.7 L618.2 418.8 L619.2 418.9 L620.2 419.1 L621.2 419.2 L622.1 419.3 L623.1 419.4 L624.1 419.5 L625.1 419.6 L626.1 419.8 L627.1 419.9 L628.1 420.0 L629.1 420.1 L630.1 420.2 L631.1 420.3 L632.1 420.4 L633.1 420.5 L634.1 420.7 L635.1 420.8 L636.0 420.9 L637.0 421.0 L638.0 421.1 L639.0 421.2 L640.0 421.3 L641.0 421.4 L642.0 421.5 L643.0 421.6 L644.0 421.7 L645.0 421.8 L646.0 421.9 L647.0 422.0 L648.0 422.1 L649.0 422.2 L650.0 422.3 L651.0 422.4 L651.9 422.5 L652.9 422.6 L653.9 422.7 L654.9 422.8 L655.9 422.9 L656.9 423.0 L657.9 423.1 L658.9 423.2 L659.9 423.3 L660.9 423.4 L661.9 423.5 L662.9 423.6 L663.9 423.7 L664.9 423.8 L665.9 423.9 L666.9 424.0 L667.9 424.1 L668.9 424.1 L669.9 424.2 L670.9 424.3 L671.9 424.4 L672.8 424.5 L673.8 424.6 L674.8 424.7 L675.8 424.8 L676.8 424.8 L677.8 424.9 L678.8 425.0 L679.8 425.1 L680.8 425.2 L681.8 425.3 L682.8 425.3 L683.8 425.4 L684.8 425.5 L685.8 425.6 L686.8 425.7 L687.8 425.7 L688.8 425.8 L689.8 425.9 L690.8 426.0 L691.8 426.1 L692.8 426.1 L693.8 426.2 L694.8 426.3 L695.8 426.4 L696.8 426.4 L697.8 426.5 L698.8 426.6 L699.8 426.6 L700.8 426.7 L701.8 426.8 L702.8 426.9 L703.8 426.9 L704.8 427.0 L705.8 427.1 L706.8 427.1 L707.8 427.2 L708.8 427.3 L709.8 427.3 L710.8 427.4 L711.8 427.5 L712.8 427.5 L713.8 427.6 L714.8 427.7 L715.8 427.7 L716.8 427.8 L717.8 427.9 L718.8 427.9 L719.8 428.0 L720.8 428.0 L721.8 428.1 L722.8 428.2 L723.8 428.2 L724.8 428.3 L725.8 428.3 L726.8 428.4 L727.8 428.4 L728.8 428.5 L729.8 428.6 L730.8 428.6 L731.8 428.7 L732.8 428.7 L733.8 428.8 L734.8 428.8 L735.8 428.9 L736.8 428.9 L737.8 429.0 L738.8 429.0 L739.8 429.1 L740.8 429.1 L741.8 429.2 L742.8 429.2 L743.8 429.3 L744.8 429.3 L745.8 429.4 L746.8 429.4 L747.8 429.5 L748.8 429.5 L749.8 429.6 L750.8 429.6 L751.8 429.6 L752.9 429.7 L753.9 429.7 L754.9 429.8 L755.9 429.8 L756.9 429.9 L757.9 429.9 L758.9 429.9 L759.9 430.0 L760.9 430.0 L761.9 430.1 L762.9 430.1 L763.9 430.1 L764.9 430.2 L765.9 430.2 L766.9 430.2 L767.9 430.3 L768.9 430.3 L769.9 430.3 L770.9 430.4 L772.0 430.4 L773.0 430.4 L774.0 430.5 L775.0 430.5 L776.0 430.5 L777.0 430.6 L778.0 430.6 L779.0 430.6 L780.0 430.7 L781.0 430.7 L782.0 430.7 L783.0 430.7 L784.0 430.8 L785.1 430.8 L786.1 430.8 L787.1 430.9 L788.1 430.9 L789.1 430.9 L790.1 430.9" fill="none" stroke="#4682B4" stroke-width="4.0" stroke-linejoin="round"/>
<path d="M646.5 421.6 L647.8 427.4 L649.1 421.6 Z" fill="#4682B4"/>
</g>
<path d="M150.0 673.6 H159.6 M781.5 673.6 H772.0 M150.0 664.8 H159.6 M781.5 664.8 H772.0 M150.0 657.2 H159.6 M781.5 657.2 H772.0 M150.0 650.4 H159.6 M781.5 650.4 H772.0 M150.0 644.4 H159.6 M781.5 644.4 H772.0 M150.0 604.7 H159.6 M781.5 604.7 H772.0 M150.0 581.5 H159.6 M781.5 581.5 H772.0 M150.0 565.0 H159.6 M781.5 565.0 H772.0 M150.0 552.3 H159.6 M781.5 552.3 H772.0 M150.0 541.8 H159.6 M781.5 541.8 H772.0 M150.0 533.0 H159.6 M781.5 533.0 H772.0 M150.0 525.4 H159.6 M781.5 525.4 H772.0 M150.0 518.6 H159.6 M781.5 518.6 H772.0 M150.0 512.6 H159.6 M781.5 512.6 H772.0 M150.0 472.9 H159.6 M781.5 472.9 H772.0 M150.0 449.7 H159.6 M781.5 449.7 H772.0 M150.0 433.2 H159.6 M781.5 433.2 H772.0 M150.0 420.5 H159.6 M781.5 420.5 H772.0 M150.0 410.0 H159.6 M781.5 410.0 H772.0 M150.0 401.2 H159.6 M781.5 401.2 H772.0 M150.0 393.6 H159.6 M781.5 393.6 H772.0 M150.0 386.8 H159.6 M781.5 386.8 H772.0 M150.0 380.8 H159.6 M781.5 380.8 H772.0 M150.0 341.1 H159.6 M781.5 341.1 H772.0 M150.0 317.9 H159.6 M781.5 317.9 H772.0 M150.0 301.4 H159.6 M781.5 301.4 H772.0 M150.0 288.7 H159.6 M781.5 288.7 H772.0 M150.0 278.2 H159.6 M781.5 278.2 H772.0 M150.0 269.4 H159.6 M781.5 269.4 H772.0 M150.0 261.8 H159.6 M781.5 261.8 H772.0 M150.0 255.0 H159.6 M781.5 255.0 H772.0 M150.0 249.0 H159.6 M781.5 249.0 H772.0 M150.0 209.3 H159.6 M781.5 209.3 H772.0 M150.0 186.1 H159.6 M781.5 186.1 H772.0 M150.0 169.6 H159.6 M781.5 169.6 H772.0 M150.0 156.9 H159.6 M781.5 156.9 H772.0 M150.0 146.4 H159.6 M781.5 146.4 H772.0 M150.0 137.6 H159.6 M781.5 137.6 H772.0 M150.0 130.0 H159.6 M781.5 130.0 H772.0 M150.0 123.2 H159.6 M781.5 123.2 H772.0 M150.0 117.2 H159.6 M781.5 117.2 H772.0 M150.0 77.5 H159.6 M781.5 77.5 H772.0 M150.0 54.3 H159.6 M781.5 54.3 H772.0 M162.1 683.4 V678.0 M162.1 52.0 V57.4 M183.7 683.4 V678.0 M183.7 52.0 V57.4 M205.4 683.4 V674.0 M205.4 52.0 V61.4 M227.1 683.4 V678.0 M227.1 52.0 V57.4 M248.7 683.4 V678.0 M248.7 52.0 V57.4 M270.4 683.4 V678.0 M270.4 52.0 V57.4 M292.1 683.4 V674.0 M292.1 52.0 V61.4 M313.7 683.4 V678.0 M313.7 52.0 V57.4 M335.4 683.4 V678.0 M335.4 52.0 V57.4 M357.1 683.4 V678.0 M357.1 52.0 V57.4 M378.7 683.4 V674.0 M378.7 52.0 V61.4 M400.4 683.4 V678.0 M400.4 52.0 V57.4 M422.0 683.4 V678.0 M422.0 52.0 V57.4 M443.7 683.4 V678.0 M443.7 52.0 V57.4 M465.4 683.4 V674.0 M465.4 52.0 V61.4 M487.0 683.4 V678.0 M487.0 52.0 V57.4 M508.7 683.4 V678.0 M508.7 52.0 V57.4 M530.4 683.4 V678.0 M530.4 52.0 V57.4 M552.0 683.4 V674.0 M552.0 52.0 V61.4 M573.7 683.4 V678.0 M573.7 52.0 V57.4 M595.4 683.4 V678.0 M595.4 52.0 V57.4 M617.0 683.4 V678.0 M617.0 52.0 V57.4 M638.7 683.4 V674.0 M638.7 52.0 V61.4 M660.4 683.4 V678.0 M660.4 52.0 V57.4 M682.0 683.4 V678.0 M682.0 52.0 V57.4 M703.7 683.4 V678.0 M703.7 52.0 V57.4 M725.4 683.4 V674.0 M725.4 52.0 V61.4 M747.0 683.4 V678.0 M747.0 52.0 V57.4 M768.7 683.4 V678.0 M768.7 52.0 V57.4" stroke="#000" stroke-width="2.5" fill="none"/>
<path d="M148.7 52.0 H782.8" stroke="#000" stroke-width="2.3" fill="none"/>
<path d="M148.7 683.35 H782.8" stroke="#000" stroke-width="2.7" fill="none"/>
<path d="M150.0 50.85 V684.7" stroke="#000" stroke-width="2.6" fill="none"/>
<path d="M781.5 50.85 V684.7" stroke="#000" stroke-width="2.6" fill="none"/>
<text x="77.4" y="656.6" font-size="30">10</text>
<text x="107.3" y="648.3" font-size="21" textLength="13" lengthAdjust="spacingAndGlyphs">−</text>
<text x="119.9" y="646.5" font-size="21">41</text>
<text x="77.4" y="524.8" font-size="30">10</text>
<text x="107.3" y="516.5" font-size="21" textLength="13" lengthAdjust="spacingAndGlyphs">−</text>
<text x="119.9" y="514.7" font-size="21">40</text>
<text x="77.4" y="393.0" font-size="30">10</text>
<text x="107.3" y="384.7" font-size="21" textLength="13" lengthAdjust="spacingAndGlyphs">−</text>
<text x="119.9" y="382.9" font-size="21">39</text>
<text x="77.4" y="261.2" font-size="30">10</text>
<text x="107.3" y="252.9" font-size="21" textLength="13" lengthAdjust="spacingAndGlyphs">−</text>
<text x="119.9" y="251.1" font-size="21">38</text>
<text x="77.4" y="129.4" font-size="30">10</text>
<text x="107.3" y="121.1" font-size="21" textLength="13" lengthAdjust="spacingAndGlyphs">−</text>
<text x="119.9" y="119.3" font-size="21">37</text>
<text x="205.7" y="711.4" font-size="24" text-anchor="middle">6</text>
<text x="292.4" y="711.4" font-size="24" text-anchor="middle">8</text>
<text x="379.0" y="711.4" font-size="24" text-anchor="middle">10</text>
<text x="465.7" y="711.4" font-size="24" text-anchor="middle">12</text>
<text x="552.3" y="711.4" font-size="24" text-anchor="middle">14</text>
<text x="639.0" y="711.4" font-size="24" text-anchor="middle">16</text>
<text x="725.7" y="711.4" font-size="24" text-anchor="middle">18</text>
<text x="391.6" y="762.9" font-size="37" class="it">m</text>
<path d="M434.6 758.1 L419.1 775.3" stroke="#000" stroke-width="1.1" fill="none" stroke-linecap="round"/>
<path d="M418.7 761.0 C419.2 758.4 421.8 757.2 423.3 759.9 L429.4 772.4 C430.6 775.0 433.0 775.4 434.3 772.4" stroke="#000" stroke-width="1.9" fill="none" stroke-linecap="round"/>
<text x="445.7" y="762.9" font-size="37">[GeV]</text>
<g transform="translate(48.6 432.9) rotate(-90)"><path d="M16.4 -9.6 C17.2 -4 13 -0.9 8.2 -0.9 C3.2 -0.9 0.6 -3.6 1.2 -7.8 C1.9 -12.6 6 -15.9 10.6 -15.9 C14.2 -15.9 16 -13.2 16.4 -9.6 Z" stroke="#000" stroke-width="2.2" fill="none"/><path d="M9 -16.4 L22.8 -17.3" stroke="#000" stroke-width="2.4" fill="none"/><text x="22.8" y="5.5" font-size="25" class="it">n</text><text x="46.8" y="0" font-size="38">[cm</text><text x="105.2" y="-16.9" font-size="26">2</text><text x="118.3" y="0" font-size="38">]</text></g>
<path d="M615.5 102.6 L621.3 76.2" stroke="#000" stroke-width="1.9" fill="none"/>
<g transform="translate(588.5 98.1)"><path d="M13.2 -20.3 C13.3 -22.6 10.4 -23.5 9.0 -21.2 C8.0 -19.4 7.7 -16.8 7.1 -13.6 L4.8 -1.5 C4.1 2.2 3.2 4.9 1.0 4.9 C-0.1 4.9 -0.2 3.9 0.4 3.5" stroke="#000" stroke-width="1.9" fill="none" stroke-linecap="round"/><path d="M3.3 -13.9 H11.0" stroke="#000" stroke-width="1.3" fill="none"/></g>
<g transform="translate(625.0 98.1)"><path d="M13.2 -20.3 C13.3 -22.6 10.4 -23.5 9.0 -21.2 C8.0 -19.4 7.7 -16.8 7.1 -13.6 L4.8 -1.5 C4.1 2.2 3.2 4.9 1.0 4.9 C-0.1 4.9 -0.2 3.9 0.4 3.5" stroke="#000" stroke-width="1.9" fill="none" stroke-linecap="round"/><path d="M3.3 -13.9 H11.0" stroke="#000" stroke-width="1.3" fill="none"/></g>
<text x="602.2" y="101.3" font-size="24.5" class="it">n</text>
<text x="637.8" y="101.3" font-size="24.5" class="it">p</text>
<text x="653.0" y="98.1" font-size="32.0">=</text>
<text x="671.2" y="98.1" font-size="32.0" textLength="21.2" lengthAdjust="spacingAndGlyphs">−</text>
<text x="692.0" y="98.1" font-size="32.0">0.7</text>
<text x="613.4" y="654.4" font-size="31.7">SHM</text>
<rect x="177.1" y="428.5" width="312.2" height="234" fill="#fff" stroke="#444" stroke-width="1"/>
<rect x="187.7" y="432.7" width="19.8" height="19.2" fill="#FF7F50"/>
<rect x="187.7" y="455.5" width="19.8" height="19.2" fill="#FF4500"/>
<rect x="187.7" y="478.4" width="19.8" height="19.2" fill="#B22222"/>
<rect x="187.7" y="501.4" width="19.8" height="19.2" fill="#B8860B"/>
<path d="M187.6 534.0 H227.5" stroke="#2E8B57" stroke-width="2.6" fill="none"/>
<path d="M187.6 557.0 H222.4" stroke="#6B8E23" stroke-width="2.6" stroke-dasharray="13.5 7.6" fill="none"/>
<path d="M187.6 580.0 H222.4" stroke="#000080" stroke-width="2.6" stroke-dasharray="5.9 7.2" fill="none"/>
<path d="M187.6 602.9 H222.4" stroke="#8B4513" stroke-width="2.6" stroke-dasharray="13.5 7.6" fill="none"/>
<path d="M187.6 626.0 H222.4" stroke="#9932CC" stroke-width="2.6" stroke-dasharray="5.9 7.2" fill="none"/>
<path d="M187.6 648.9 H227.5" stroke="#4682B4" stroke-width="2.6" fill="none"/>
<text x="253.7" y="449.6" font-size="23.5">CoGeNT mod 90<tspan class="it">%</tspan></text>
<text x="253.7" y="472.4" font-size="23.5">CoGeNT abs 90<tspan class="it">%</tspan></text>
<text x="253.7" y="495.2" font-size="23.5">DAMA 90<tspan class="it">%</tspan></text>
<text x="253.7" y="518.0" font-size="23.5">CRESST 1<tspan class="it">σ</tspan></text>
<text x="253.7" y="540.8" font-size="23.5">XENON100 90<tspan class="it">%</tspan></text>
<text x="253.7" y="563.6" font-size="23.5">XENON10−S2 90<tspan class="it">%</tspan></text>
<text x="253.7" y="586.4" font-size="23.5">CDMS Ge low 90<tspan class="it">%</tspan></text>
<text x="253.7" y="609.2" font-size="23.5">CDMS Si SUF 90<tspan class="it">%</tspan></text>
<text x="253.7" y="632.0" font-size="23.5">CRESST−II 90<tspan class="it">%</tspan></text>
<text x="253.7" y="654.8" font-size="23.5">SIMPLE 90<tspan class="it">%</tspan></text>
</svg></body></html>
